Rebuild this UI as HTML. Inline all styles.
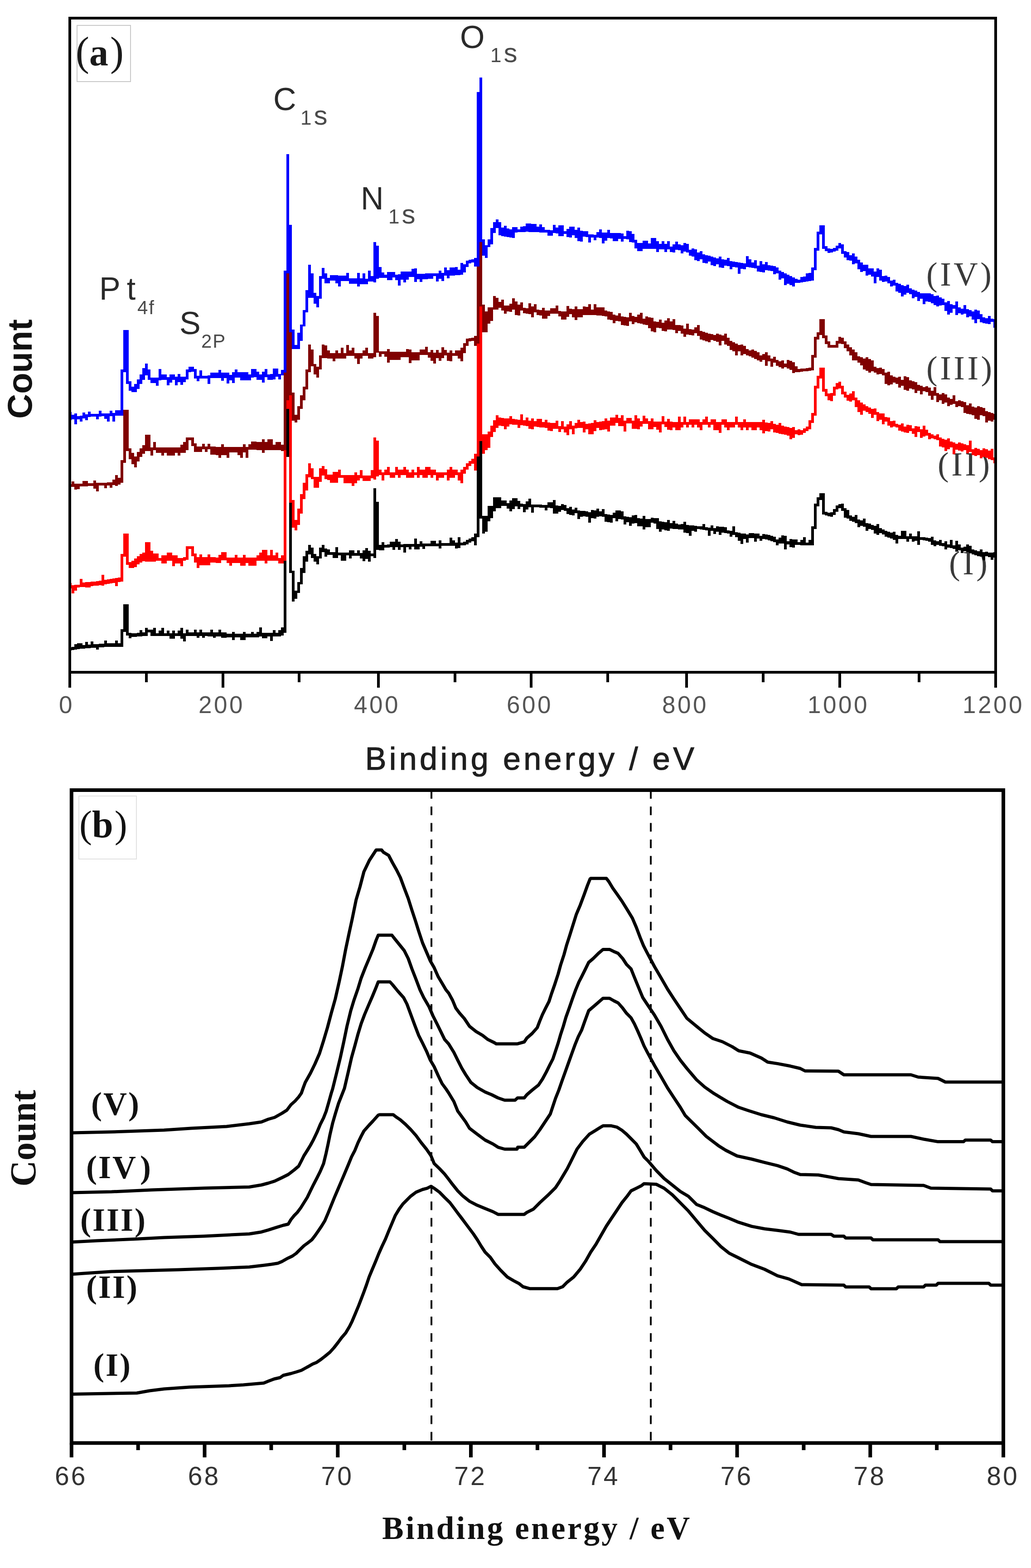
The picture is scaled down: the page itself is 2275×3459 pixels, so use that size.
<!DOCTYPE html>
<html><head><meta charset="utf-8"><title>XPS spectra</title>
<style>html,body{margin:0;padding:0;background:#fff;overflow:hidden}svg{display:block}</style>
</head><body>
<svg width="2275" height="3459" viewBox="0 0 2275 3459">
<rect width="2275" height="3459" fill="#fff"/>
<g id="plotA">
<rect x="170" y="56" width="118" height="124" fill="none" stroke="#c8c8c8" stroke-width="2"/>
<text x="167" y="144" font-family="'Liberation Serif', 'Times New Roman', serif" font-size="90" fill="#1a1a1a">(<tspan font-weight="bold" font-size="84">a</tspan><tspan dx="4">)</tspan></text>
<text x="2044" y="630" font-family="'Liberation Serif', 'Times New Roman', serif" font-size="74" fill="#3a3a3a" letter-spacing="5.5">(IV)</text>
<text x="2044" y="837" font-family="'Liberation Serif', 'Times New Roman', serif" font-size="74" fill="#3a3a3a" letter-spacing="5.5">(III)</text>
<text x="2069" y="1049" font-family="'Liberation Serif', 'Times New Roman', serif" font-size="74" fill="#3a3a3a" letter-spacing="5.5">(II)</text>
<text x="2094" y="1267" font-family="'Liberation Serif', 'Times New Roman', serif" font-size="74" fill="#3a3a3a" letter-spacing="5.5">(I)</text>
<path d="M154.0 1428.2h4.0v6.8h-4.0zM158.0 1427.1h6.0v7.1h-6.0zM164.0 1420.5h6.0v12.6h-6.0zM170.0 1419.4h6.0v12.6h-6.0zM176.0 1418.7h6.0v12.2h-6.0zM182.0 1422.5h6.0v8.0h-6.0zM188.0 1416.1h6.0v14.0h-6.0zM194.0 1421.7h6.0v8.0h-6.0zM200.0 1415.3h6.0v14.0h-6.0zM206.0 1420.9h6.0v8.0h-6.0zM212.0 1420.5h6.0v12.0h-6.0zM218.0 1420.1h6.0v8.0h-6.0zM224.0 1419.7h6.0v8.0h-6.0zM230.0 1413.3h6.0v14.0h-6.0zM236.0 1419.2h6.0v7.8h-6.0zM242.0 1419.2h6.0v7.8h-6.0zM248.0 1419.2h6.0v7.8h-6.0zM254.0 1413.2h6.0v13.8h-6.0zM260.0 1419.2h6.0v7.8h-6.0zM266.0 1388.0h6.0v39.0h-6.0zM272.0 1333.0h6.0v61.0h-6.0zM278.0 1333.0h6.0v69.0h-6.0zM284.0 1396.0h6.0v12.0h-6.0zM290.0 1397.0h6.0v8.0h-6.0zM296.0 1396.6h6.0v8.0h-6.0zM302.0 1396.2h6.0v8.0h-6.0zM308.0 1389.8h6.0v14.0h-6.0zM314.0 1395.4h6.0v8.0h-6.0zM320.0 1385.2h6.0v17.8h-6.0zM326.0 1389.0h6.0v6.0h-6.0zM332.0 1389.0h6.0v14.0h-6.0zM338.0 1385.0h6.0v18.0h-6.0zM344.0 1397.0h6.0v6.0h-6.0zM350.0 1391.1h6.0v12.0h-6.0zM356.0 1385.1h6.0v18.0h-6.0zM362.0 1397.1h6.0v6.0h-6.0zM368.0 1391.1h6.0v12.0h-6.0zM374.0 1397.1h6.0v12.0h-6.0zM380.0 1391.2h6.0v18.0h-6.0zM386.0 1397.2h6.0v6.0h-6.0zM392.0 1391.2h6.0v12.0h-6.0zM398.0 1385.2h6.0v24.0h-6.0zM404.0 1397.3h6.0v18.0h-6.0zM410.0 1388.9h6.0v14.4h-6.0zM416.0 1394.9h6.0v8.4h-6.0zM422.0 1394.9h6.0v8.4h-6.0zM428.0 1389.0h6.0v14.4h-6.0zM434.0 1395.0h6.0v12.0h-6.0zM440.0 1389.0h6.0v14.4h-6.0zM446.0 1395.0h6.0v12.0h-6.0zM452.0 1395.0h6.0v8.4h-6.0zM458.0 1395.1h6.0v8.4h-6.0zM464.0 1389.1h6.0v14.4h-6.0zM470.0 1395.1h6.0v12.0h-6.0zM476.0 1395.1h6.0v8.4h-6.0zM482.0 1389.2h6.0v14.4h-6.0zM488.0 1395.2h6.0v12.0h-6.0zM494.0 1395.2h6.0v12.0h-6.0zM500.0 1397.6h6.0v8.4h-6.0zM506.0 1397.6h6.0v8.4h-6.0zM512.0 1394.1h6.0v18.0h-6.0zM518.0 1397.7h6.0v8.4h-6.0zM524.0 1397.7h6.0v8.4h-6.0zM530.0 1397.7h6.0v14.4h-6.0zM536.0 1394.2h6.0v18.0h-6.0zM542.0 1397.8h6.0v8.4h-6.0zM548.0 1397.8h6.0v8.4h-6.0zM554.0 1394.2h6.0v12.0h-6.0zM560.0 1397.8h6.0v8.4h-6.0zM566.0 1394.3h6.0v12.0h-6.0zM572.0 1383.5h6.0v20.4h-6.0zM578.0 1395.5h6.0v12.0h-6.0zM584.0 1395.6h6.0v12.0h-6.0zM590.0 1395.6h6.0v8.4h-6.0zM596.0 1395.6h6.0v18.0h-6.0zM602.0 1389.6h6.0v14.4h-6.0zM608.0 1395.6h6.0v8.4h-6.0zM614.0 1390.0h6.0v14.0h-6.0zM620.0 1384.0h6.0v18.0h-6.0zM626.0 896.0h6.0v500.0h-6.0zM632.0 896.0h6.0v112.0h-6.0zM638.0 1002.0h6.0v262.0h-6.0zM644.0 1259.0h6.0v68.0h-6.0zM650.0 1303.0h6.0v18.0h-6.0zM656.0 1284.0h6.0v24.0h-6.0zM662.0 1253.0h6.0v36.0h-6.0zM668.0 1227.0h6.0v37.0h-6.0zM674.0 1215.0h6.0v24.0h-6.0zM680.0 1202.0h6.0v21.0h-6.0zM686.0 1208.0h6.0v23.0h-6.0zM692.0 1222.0h6.0v17.0h-6.0zM698.0 1227.0h6.0v18.0h-6.0zM704.0 1208.0h6.0v24.0h-6.0zM710.0 1202.0h6.0v16.0h-6.0zM716.0 1210.0h6.0v18.0h-6.0zM722.0 1212.1h6.0v12.1h-6.0zM728.0 1218.2h6.0v6.2h-6.0zM734.0 1218.4h6.0v12.1h-6.0zM740.0 1206.6h6.0v24.0h-6.0zM746.0 1218.7h6.0v6.2h-6.0zM752.0 1218.9h6.0v18.1h-6.0zM758.0 1219.1h6.0v18.1h-6.0zM764.0 1219.2h6.0v6.2h-6.0zM770.0 1213.5h6.0v18.0h-6.0zM776.0 1213.7h6.0v12.1h-6.0zM782.0 1219.8h6.0v6.2h-6.0zM788.0 1214.0h6.0v12.1h-6.0zM794.0 1220.1h6.0v12.1h-6.0zM800.0 1214.4h6.0v24.0h-6.0zM806.0 1208.6h6.0v24.0h-6.0zM812.0 1214.7h6.0v24.0h-6.0zM818.0 1220.8h6.0v6.2h-6.0zM824.0 1077.0h6.0v154.0h-6.0zM830.0 1107.0h6.0v106.0h-6.0zM836.0 1201.8h6.0v12.1h-6.0zM842.0 1195.8h6.0v18.0h-6.0zM848.0 1201.5h6.0v6.2h-6.0zM854.0 1201.4h6.0v6.2h-6.0zM860.0 1195.3h6.0v12.1h-6.0zM866.0 1195.1h6.0v18.0h-6.0zM872.0 1189.0h6.0v18.1h-6.0zM878.0 1194.8h6.0v18.0h-6.0zM884.0 1200.6h6.0v6.2h-6.0zM890.0 1200.4h6.0v18.1h-6.0zM896.0 1200.3h6.0v6.2h-6.0zM902.0 1200.1h6.0v12.1h-6.0zM908.0 1199.9h6.0v6.2h-6.0zM914.0 1187.9h6.0v24.0h-6.0zM920.0 1199.6h6.0v12.1h-6.0zM926.0 1193.5h6.0v12.1h-6.0zM932.0 1199.3h6.0v12.1h-6.0zM938.0 1199.1h6.0v6.2h-6.0zM944.0 1199.0h6.0v6.2h-6.0zM950.0 1192.9h6.0v12.1h-6.0zM956.0 1192.7h6.0v12.1h-6.0zM962.0 1198.5h6.0v6.2h-6.0zM968.0 1192.4h6.0v18.0h-6.0zM974.0 1198.2h6.0v6.2h-6.0zM980.0 1198.0h6.0v6.2h-6.0zM986.0 1197.9h6.0v6.2h-6.0zM992.0 1185.8h6.0v18.1h-6.0zM998.0 1191.6h6.0v12.1h-6.0zM1004.0 1197.4h6.0v12.1h-6.0zM1010.0 1185.3h6.0v24.0h-6.0zM1016.0 1197.1h6.0v6.2h-6.0zM1022.0 1194.9h6.0v8.2h-6.0zM1028.0 1191.0h6.0v9.9h-6.0zM1034.0 1188.0h6.0v9.0h-6.0zM1040.0 1185.0h6.0v9.0h-6.0zM1046.0 1177.0h6.0v26.0h-6.0zM1052.0 1001.0h6.0v184.0h-6.0zM1058.0 971.0h6.0v173.0h-6.0zM1064.0 1138.0h6.0v39.0h-6.0zM1070.0 1138.0h6.0v35.0h-6.0zM1076.0 1116.0h6.0v34.0h-6.0zM1082.0 1116.0h6.0v27.0h-6.0zM1088.0 1097.0h6.0v31.0h-6.0zM1094.0 1097.0h6.0v24.0h-6.0zM1100.0 1097.2h6.0v24.0h-6.0zM1106.0 1103.5h6.0v12.1h-6.0zM1112.0 1103.8h6.0v12.2h-6.0zM1118.0 1109.9h6.0v12.1h-6.0zM1124.0 1104.3h6.0v24.0h-6.0zM1130.0 1098.7h6.0v24.0h-6.0zM1136.0 1099.0h6.0v18.1h-6.0zM1142.0 1105.2h6.0v18.0h-6.0zM1148.0 1111.4h6.0v6.3h-6.0zM1154.0 1111.7h6.0v18.1h-6.0zM1160.0 1106.1h6.0v18.0h-6.0zM1166.0 1100.4h6.0v18.1h-6.0zM1172.0 1112.5h6.0v18.1h-6.0zM1178.0 1112.8h6.0v6.3h-6.0zM1184.0 1113.0h6.0v6.3h-6.0zM1190.0 1113.3h6.0v6.3h-6.0zM1196.0 1113.5h6.0v6.3h-6.0zM1202.0 1113.8h6.0v12.1h-6.0zM1208.0 1108.2h6.0v12.1h-6.0zM1214.0 1108.4h6.0v12.1h-6.0zM1220.0 1102.7h6.0v30.0h-6.0zM1226.0 1114.8h6.0v18.1h-6.0zM1232.0 1115.6h6.0v12.9h-6.0zM1238.0 1112.3h6.0v12.9h-6.0zM1244.0 1114.1h6.0v12.9h-6.0zM1250.0 1121.0h6.0v12.9h-6.0zM1256.0 1117.7h6.0v18.0h-6.0zM1262.0 1124.3h6.0v12.5h-6.0zM1268.0 1119.7h6.0v12.4h-6.0zM1274.0 1126.1h6.0v18.5h-6.0zM1280.0 1127.0h6.0v12.5h-6.0zM1286.0 1127.1h6.0v12.0h-6.0zM1292.0 1128.0h6.0v12.0h-6.0zM1298.0 1129.7h6.0v23.2h-6.0zM1304.0 1124.8h6.0v18.0h-6.0zM1310.0 1125.6h6.0v18.0h-6.0zM1316.0 1121.5h6.0v18.0h-6.0zM1322.0 1128.2h6.0v11.2h-6.0zM1328.0 1122.9h6.0v17.2h-6.0zM1334.0 1134.1h6.0v17.2h-6.0zM1340.0 1134.8h6.0v17.2h-6.0zM1346.0 1135.5h6.0v17.2h-6.0zM1352.0 1130.7h6.0v12.4h-6.0zM1358.0 1125.5h6.0v24.0h-6.0zM1364.0 1126.4h6.0v18.4h-6.0zM1370.0 1128.4h6.0v17.2h-6.0zM1376.0 1138.9h6.0v18.0h-6.0zM1382.0 1139.7h6.0v12.0h-6.0zM1388.0 1141.3h6.0v18.4h-6.0zM1394.0 1136.6h6.0v18.0h-6.0zM1400.0 1136.1h6.0v18.0h-6.0zM1406.0 1142.7h6.0v18.0h-6.0zM1412.0 1144.2h6.0v17.1h-6.0zM1418.0 1137.9h6.0v30.0h-6.0zM1424.0 1144.5h6.0v18.0h-6.0zM1430.0 1145.1h6.0v18.0h-6.0zM1436.0 1142.1h6.0v11.3h-6.0zM1442.0 1143.2h6.0v11.4h-6.0zM1448.0 1143.2h6.0v24.0h-6.0zM1454.0 1149.8h6.0v23.4h-6.0zM1460.0 1151.0h6.0v17.4h-6.0zM1466.0 1151.6h6.0v18.0h-6.0zM1472.0 1146.8h6.0v24.0h-6.0zM1478.0 1153.9h6.0v12.0h-6.0zM1484.0 1148.5h6.0v18.0h-6.0zM1490.0 1155.1h6.0v12.0h-6.0zM1496.0 1156.6h6.0v11.1h-6.0zM1502.0 1156.3h6.0v12.0h-6.0zM1508.0 1150.9h6.0v24.0h-6.0zM1514.0 1157.5h6.0v18.0h-6.0zM1520.0 1159.0h6.0v23.1h-6.0zM1526.0 1158.7h6.0v12.0h-6.0zM1532.0 1160.2h6.0v12.3h-6.0zM1538.0 1160.8h6.0v6.6h-6.0zM1544.0 1161.4h6.0v6.6h-6.0zM1550.0 1156.4h6.0v12.4h-6.0zM1556.0 1162.8h6.0v6.8h-6.0zM1562.0 1163.7h6.0v18.4h-6.0zM1568.0 1158.9h6.0v12.4h-6.0zM1574.0 1165.4h6.0v12.4h-6.0zM1580.0 1160.6h6.0v12.4h-6.0zM1586.0 1161.5h6.0v18.0h-6.0zM1592.0 1162.3h6.0v12.4h-6.0zM1598.0 1163.2h6.0v12.7h-6.0zM1604.0 1169.9h6.0v7.3h-6.0zM1610.0 1171.2h6.0v12.7h-6.0zM1616.0 1161.2h6.0v18.7h-6.0zM1622.0 1173.8h6.0v11.5h-6.0zM1628.0 1175.2h6.0v17.5h-6.0zM1634.0 1176.5h6.0v23.5h-6.0zM1640.0 1177.3h6.0v12.0h-6.0zM1646.0 1179.1h6.0v17.5h-6.0zM1652.0 1175.6h6.0v11.0h-6.0zM1658.0 1176.0h6.0v11.0h-6.0zM1664.0 1176.5h6.0v18.0h-6.0zM1670.0 1176.9h6.0v11.0h-6.0zM1676.0 1182.0h6.0v11.0h-6.0zM1682.0 1177.8h6.0v11.0h-6.0zM1688.0 1178.5h6.0v11.7h-6.0zM1694.0 1180.3h6.0v11.7h-6.0zM1700.0 1182.1h6.0v11.7h-6.0zM1706.0 1183.9h6.0v11.7h-6.0zM1712.0 1189.6h6.0v12.9h-6.0zM1718.0 1186.1h6.0v12.4h-6.0zM1724.0 1180.9h6.0v18.4h-6.0zM1730.0 1181.7h6.0v30.0h-6.0zM1736.0 1194.1h6.0v6.8h-6.0zM1742.0 1189.3h6.0v18.0h-6.0zM1748.0 1190.0h6.0v18.0h-6.0zM1754.0 1190.2h6.0v12.1h-6.0zM1760.0 1196.2h6.0v6.2h-6.0zM1766.0 1190.5h6.0v12.1h-6.0zM1772.0 1184.6h6.0v18.1h-6.0zM1778.0 1196.7h6.0v6.1h-6.0zM1784.0 1190.9h6.0v12.1h-6.0zM1790.0 1161.0h6.0v42.0h-6.0zM1796.0 1111.0h6.0v56.0h-6.0zM1802.0 1097.0h6.0v20.0h-6.0zM1808.0 1088.0h6.0v15.0h-6.0zM1814.0 1088.0h6.0v47.0h-6.0zM1820.0 1129.0h6.0v8.0h-6.0zM1826.0 1131.0h6.0v8.0h-6.0zM1832.0 1130.2h6.0v9.8h-6.0zM1838.0 1122.6h6.0v13.6h-6.0zM1844.0 1115.0h6.0v13.6h-6.0zM1850.0 1112.0h6.0v9.0h-6.0zM1856.0 1111.0h6.0v16.0h-6.0zM1862.0 1121.0h6.0v21.0h-6.0zM1868.0 1125.1h6.0v19.1h-6.0zM1874.0 1136.8h6.0v12.0h-6.0zM1880.0 1140.2h6.0v10.7h-6.0zM1886.0 1135.6h6.0v18.0h-6.0zM1892.0 1145.5h6.0v17.1h-6.0zM1898.0 1147.6h6.0v12.0h-6.0zM1904.0 1144.3h6.0v18.0h-6.0zM1910.0 1153.8h6.0v16.7h-6.0zM1916.0 1154.6h6.0v12.0h-6.0zM1922.0 1158.1h6.0v10.7h-6.0zM1928.0 1160.3h6.0v16.8h-6.0zM1934.0 1155.7h6.0v24.0h-6.0zM1940.0 1165.4h6.0v10.9h-6.0zM1946.0 1168.0h6.0v10.9h-6.0zM1952.0 1170.7h6.0v13.3h-6.0zM1958.0 1173.1h6.0v13.1h-6.0zM1964.0 1175.3h6.0v13.1h-6.0zM1970.0 1172.6h6.0v18.0h-6.0zM1976.0 1179.7h6.0v19.1h-6.0zM1982.0 1181.9h6.0v7.1h-6.0zM1988.0 1171.0h6.0v18.0h-6.0zM1994.0 1171.0h6.0v18.0h-6.0zM2000.0 1183.0h6.0v12.0h-6.0zM2006.0 1177.0h6.0v12.0h-6.0zM2012.0 1183.0h6.0v12.0h-6.0zM2018.0 1183.3h6.0v9.9h-6.0zM2024.0 1172.2h6.0v30.0h-6.0zM2030.0 1184.5h6.0v6.6h-6.0zM2036.0 1185.1h6.0v6.6h-6.0zM2042.0 1185.7h6.0v7.4h-6.0zM2048.0 1187.1h6.0v8.2h-6.0zM2054.0 1184.4h6.0v18.0h-6.0zM2060.0 1191.5h6.0v13.1h-6.0zM2066.0 1193.7h6.0v8.2h-6.0zM2072.0 1191.0h6.0v12.7h-6.0zM2078.0 1197.7h6.0v7.4h-6.0zM2084.0 1193.8h6.0v18.0h-6.0zM2090.0 1200.5h6.0v7.4h-6.0zM2096.0 1190.6h6.0v18.7h-6.0zM2102.0 1203.3h6.0v7.4h-6.0zM2108.0 1193.4h6.0v24.0h-6.0zM2114.0 1200.8h6.0v12.7h-6.0zM2120.0 1207.5h6.0v12.7h-6.0zM2126.0 1206.0h6.0v10.3h-6.0zM2132.0 1201.4h6.0v16.7h-6.0zM2138.0 1203.6h6.0v16.7h-6.0zM2144.0 1211.8h6.0v10.7h-6.0zM2150.0 1214.0h6.0v10.7h-6.0zM2156.0 1216.2h6.0v10.7h-6.0zM2162.0 1212.4h6.0v15.6h-6.0zM2168.0 1217.7h6.0v18.0h-6.0zM2174.0 1216.9h6.0v10.0h-6.0zM2180.0 1219.4h6.0v10.0h-6.0zM2186.0 1218.6h6.0v16.0h-6.0zM2192.0 1218.0h5.0v12.3h-5.0z" fill="#000000" shape-rendering="crispEdges"/>
<path d="M154.0 1285.8h4.0v12.2h-4.0zM158.0 1290.8h6.0v18.3h-6.0zM164.0 1290.2h6.0v12.3h-6.0zM170.0 1289.5h6.0v6.7h-6.0zM176.0 1277.1h6.0v18.3h-6.0zM182.0 1284.9h6.0v9.9h-6.0zM188.0 1284.3h6.0v12.0h-6.0zM194.0 1283.7h6.0v12.0h-6.0zM200.0 1283.1h6.0v9.9h-6.0zM206.0 1282.5h6.0v9.9h-6.0zM212.0 1281.9h6.0v9.9h-6.0zM218.0 1281.2h6.0v10.0h-6.0zM224.0 1268.2h6.0v24.0h-6.0zM230.0 1279.1h6.0v10.1h-6.0zM236.0 1278.1h6.0v10.1h-6.0zM242.0 1277.1h6.0v10.1h-6.0zM248.0 1276.0h6.0v10.1h-6.0zM254.0 1275.0h6.0v18.0h-6.0zM260.0 1273.9h6.0v10.1h-6.0zM266.0 1222.0h6.0v61.0h-6.0zM272.0 1177.0h6.0v51.0h-6.0zM278.0 1177.0h6.0v69.0h-6.0zM284.0 1240.0h6.0v13.0h-6.0zM290.0 1237.0h6.0v16.0h-6.0zM296.0 1232.0h6.0v19.0h-6.0zM302.0 1227.0h6.0v18.0h-6.0zM308.0 1222.0h6.0v19.0h-6.0zM314.0 1219.0h6.0v19.0h-6.0zM320.0 1196.0h6.0v43.0h-6.0zM326.0 1196.0h6.0v43.0h-6.0zM332.0 1215.4h6.0v24.0h-6.0zM338.0 1221.4h6.0v18.0h-6.0zM344.0 1221.4h6.0v15.6h-6.0zM350.0 1231.0h6.0v6.0h-6.0zM356.0 1225.0h6.0v18.0h-6.0zM362.0 1225.0h6.0v18.0h-6.0zM368.0 1219.0h6.0v18.0h-6.0zM374.0 1219.0h6.0v18.0h-6.0zM380.0 1225.0h6.0v24.0h-6.0zM386.0 1225.0h6.0v18.0h-6.0zM392.0 1231.0h6.0v12.0h-6.0zM398.0 1231.0h6.0v18.0h-6.0zM404.0 1229.0h6.0v8.0h-6.0zM410.0 1205.0h6.0v30.0h-6.0zM416.0 1205.0h6.0v6.0h-6.0zM422.0 1205.0h6.0v22.0h-6.0zM428.0 1221.0h6.0v20.0h-6.0zM434.0 1229.0h6.0v24.0h-6.0zM440.0 1223.1h6.0v24.0h-6.0zM446.0 1229.2h6.0v18.0h-6.0zM452.0 1229.2h6.0v18.0h-6.0zM458.0 1223.3h6.0v24.0h-6.0zM464.0 1229.4h6.0v12.0h-6.0zM470.0 1229.4h6.0v12.0h-6.0zM476.0 1229.5h6.0v12.0h-6.0zM482.0 1223.6h6.0v18.0h-6.0zM488.0 1217.6h6.0v18.0h-6.0zM494.0 1217.7h6.0v18.0h-6.0zM500.0 1229.7h6.0v12.0h-6.0zM506.0 1229.8h6.0v18.0h-6.0zM512.0 1229.9h6.0v12.0h-6.0zM518.0 1224.0h6.0v18.0h-6.0zM524.0 1230.0h6.0v12.0h-6.0zM530.0 1230.1h6.0v18.0h-6.0zM536.0 1224.1h6.0v24.0h-6.0zM542.0 1230.2h6.0v12.0h-6.0zM548.0 1230.2h6.0v18.0h-6.0zM554.0 1230.3h6.0v18.0h-6.0zM560.0 1230.4h6.0v18.0h-6.0zM566.0 1224.5h6.0v12.0h-6.0zM572.0 1218.5h6.0v18.0h-6.0zM578.0 1212.6h6.0v24.0h-6.0zM584.0 1212.7h6.0v30.0h-6.0zM590.0 1224.7h6.0v12.0h-6.0zM596.0 1212.8h6.0v24.0h-6.0zM602.0 1224.8h6.0v12.0h-6.0zM608.0 1218.9h6.0v18.0h-6.0zM614.0 1230.9h6.0v12.0h-6.0zM620.0 1225.0h6.0v18.0h-6.0zM626.0 828.0h6.0v409.0h-6.0zM632.0 828.0h6.0v74.0h-6.0zM638.0 869.0h6.0v240.0h-6.0zM644.0 1103.0h6.0v61.0h-6.0zM650.0 1147.0h6.0v23.0h-6.0zM656.0 1122.0h6.0v36.0h-6.0zM662.0 1090.0h6.0v43.0h-6.0zM668.0 1065.0h6.0v36.0h-6.0zM674.0 1046.0h6.0v36.0h-6.0zM680.0 1022.0h6.0v31.0h-6.0zM686.0 1033.0h6.0v24.0h-6.0zM692.0 1052.0h6.0v24.0h-6.0zM698.0 1052.0h6.0v24.0h-6.0zM704.0 1033.0h6.0v30.0h-6.0zM710.0 1028.0h6.0v21.0h-6.0zM716.0 1035.0h6.0v22.0h-6.0zM722.0 1047.0h6.0v12.1h-6.0zM728.0 1047.1h6.0v18.1h-6.0zM734.0 1041.3h6.0v24.0h-6.0zM740.0 1041.4h6.0v24.0h-6.0zM746.0 1035.5h6.0v18.1h-6.0zM752.0 1047.6h6.0v6.1h-6.0zM758.0 1047.7h6.0v18.1h-6.0zM764.0 1047.8h6.0v18.1h-6.0zM770.0 1047.9h6.0v18.1h-6.0zM776.0 1048.1h6.0v24.1h-6.0zM782.0 1042.2h6.0v24.0h-6.0zM788.0 1048.3h6.0v12.1h-6.0zM794.0 1036.5h6.0v18.1h-6.0zM800.0 1048.5h6.0v12.1h-6.0zM806.0 1048.6h6.0v12.1h-6.0zM812.0 1048.8h6.0v12.1h-6.0zM818.0 1036.9h6.0v18.1h-6.0zM824.0 965.0h6.0v93.0h-6.0zM830.0 972.0h6.0v79.0h-6.0zM836.0 1036.0h6.0v12.0h-6.0zM842.0 1042.0h6.0v18.0h-6.0zM848.0 1036.0h6.0v12.0h-6.0zM854.0 1030.0h6.0v18.0h-6.0zM860.0 1042.0h6.0v12.0h-6.0zM866.0 1042.0h6.0v12.0h-6.0zM872.0 1030.0h6.0v18.0h-6.0zM878.0 1036.0h6.0v18.0h-6.0zM884.0 1036.0h6.0v12.0h-6.0zM890.0 1030.0h6.0v18.0h-6.0zM896.0 1036.0h6.0v18.0h-6.0zM902.0 1042.0h6.0v12.0h-6.0zM908.0 1036.0h6.0v18.0h-6.0zM914.0 1042.0h6.0v6.0h-6.0zM920.0 1030.0h6.0v24.0h-6.0zM926.0 1036.0h6.0v12.0h-6.0zM932.0 1036.0h6.0v18.0h-6.0zM938.0 1030.0h6.0v24.0h-6.0zM944.0 1030.0h6.0v18.0h-6.0zM950.0 1036.0h6.0v18.0h-6.0zM956.0 1036.0h6.0v12.0h-6.0zM962.0 1042.0h6.0v18.0h-6.0zM968.0 1042.0h6.0v12.0h-6.0zM974.0 1042.0h6.0v12.0h-6.0zM980.0 1042.0h6.0v6.0h-6.0zM986.0 1036.0h6.0v24.0h-6.0zM992.0 1030.0h6.0v24.0h-6.0zM998.0 1036.0h6.0v18.0h-6.0zM1004.0 1036.0h6.0v12.0h-6.0zM1010.0 1042.0h6.0v18.0h-6.0zM1016.0 1036.0h6.0v30.0h-6.0zM1022.0 1029.6h6.0v15.1h-6.0zM1028.0 1022.2h6.0v13.3h-6.0zM1034.0 1016.9h6.0v11.3h-6.0zM1040.0 1012.0h6.0v10.9h-6.0zM1046.0 1001.0h6.0v37.0h-6.0zM1052.0 746.0h6.0v261.0h-6.0zM1058.0 670.0h6.0v303.0h-6.0zM1064.0 958.0h6.0v43.0h-6.0zM1070.0 958.0h6.0v35.0h-6.0zM1076.0 952.0h6.0v36.0h-6.0zM1082.0 939.0h6.0v25.0h-6.0zM1088.0 927.0h6.0v26.0h-6.0zM1094.0 916.0h6.0v28.0h-6.0zM1100.0 921.3h6.0v18.0h-6.0zM1106.0 921.9h6.0v18.0h-6.0zM1112.0 922.5h6.0v24.0h-6.0zM1118.0 923.1h6.0v18.0h-6.0zM1124.0 917.7h6.0v18.3h-6.0zM1130.0 924.3h6.0v12.3h-6.0zM1136.0 924.9h6.0v12.3h-6.0zM1142.0 925.5h6.0v18.0h-6.0zM1148.0 914.1h6.0v24.3h-6.0zM1154.0 926.7h6.0v12.3h-6.0zM1160.0 921.3h6.0v18.3h-6.0zM1166.0 927.9h6.0v18.0h-6.0zM1172.0 922.5h6.0v24.0h-6.0zM1178.0 929.1h6.0v12.3h-6.0zM1184.0 923.7h6.0v18.3h-6.0zM1190.0 924.3h6.0v18.3h-6.0zM1196.0 930.9h6.0v12.3h-6.0zM1202.0 925.5h6.0v18.3h-6.0zM1208.0 932.1h6.0v18.0h-6.0zM1214.0 932.7h6.0v18.0h-6.0zM1220.0 933.3h6.0v12.3h-6.0zM1226.0 927.9h6.0v18.3h-6.0zM1232.0 940.2h6.0v12.3h-6.0zM1238.0 929.1h6.0v18.3h-6.0zM1244.0 941.4h6.0v12.3h-6.0zM1250.0 935.5h6.0v24.0h-6.0zM1256.0 928.6h6.0v18.5h-6.0zM1262.0 939.3h6.0v18.5h-6.0zM1268.0 932.9h6.0v12.4h-6.0zM1274.0 926.0h6.0v18.4h-6.0zM1280.0 931.0h6.0v12.5h-6.0zM1286.0 930.1h6.0v24.0h-6.0zM1292.0 934.8h6.0v12.5h-6.0zM1298.0 933.9h6.0v24.5h-6.0zM1304.0 933.0h6.0v24.5h-6.0zM1310.0 926.5h6.0v24.0h-6.0zM1316.0 931.2h6.0v12.4h-6.0zM1322.0 930.3h6.0v18.5h-6.0zM1328.0 929.4h6.0v18.5h-6.0zM1334.0 923.0h6.0v24.0h-6.0zM1340.0 927.6h6.0v24.4h-6.0zM1346.0 921.1h6.0v18.0h-6.0zM1352.0 921.1h6.0v18.0h-6.0zM1358.0 915.3h6.0v18.1h-6.0zM1364.0 921.5h6.0v18.0h-6.0zM1370.0 915.6h6.0v24.0h-6.0zM1376.0 927.7h6.0v24.1h-6.0zM1382.0 921.9h6.0v12.1h-6.0zM1388.0 922.1h6.0v12.1h-6.0zM1394.0 928.2h6.0v18.1h-6.0zM1400.0 916.4h6.0v30.0h-6.0zM1406.0 922.6h6.0v24.0h-6.0zM1412.0 928.7h6.0v12.1h-6.0zM1418.0 916.9h6.0v18.1h-6.0zM1424.0 923.1h6.0v12.1h-6.0zM1430.0 929.1h6.0v18.1h-6.0zM1436.0 923.4h6.0v24.0h-6.0zM1442.0 929.5h6.0v12.1h-6.0zM1448.0 929.6h6.0v18.1h-6.0zM1454.0 929.8h6.0v24.1h-6.0zM1460.0 918.0h6.0v18.1h-6.0zM1466.0 930.1h6.0v12.1h-6.0zM1472.0 924.3h6.0v24.0h-6.0zM1478.0 930.4h6.0v18.1h-6.0zM1484.0 930.6h6.0v12.1h-6.0zM1490.0 930.7h6.0v18.1h-6.0zM1496.0 919.0h6.0v30.0h-6.0zM1502.0 931.0h6.0v12.0h-6.0zM1508.0 919.0h6.0v18.0h-6.0zM1514.0 931.0h6.0v12.0h-6.0zM1520.0 925.0h6.0v12.0h-6.0zM1526.0 925.0h6.0v18.0h-6.0zM1532.0 925.0h6.0v12.0h-6.0zM1538.0 925.0h6.0v18.0h-6.0zM1544.0 931.0h6.0v18.0h-6.0zM1550.0 925.0h6.0v12.0h-6.0zM1556.0 919.0h6.0v18.0h-6.0zM1562.0 931.0h6.0v12.0h-6.0zM1568.0 925.0h6.0v12.0h-6.0zM1574.0 925.0h6.0v24.0h-6.0zM1580.0 931.0h6.0v18.0h-6.0zM1586.0 931.0h6.0v24.0h-6.0zM1592.0 925.0h6.0v12.0h-6.0zM1598.0 925.0h6.0v18.0h-6.0zM1604.0 931.0h6.0v18.0h-6.0zM1610.0 931.0h6.0v12.0h-6.0zM1616.0 931.0h6.0v12.0h-6.0zM1622.0 919.0h6.0v18.0h-6.0zM1628.0 931.0h6.0v12.0h-6.0zM1634.0 931.0h6.0v18.0h-6.0zM1640.0 925.0h6.0v18.0h-6.0zM1646.0 931.0h6.0v18.0h-6.0zM1652.0 931.0h6.0v12.0h-6.0zM1658.0 931.0h6.0v18.0h-6.0zM1664.0 931.0h6.0v18.0h-6.0zM1670.0 931.0h6.0v12.0h-6.0zM1676.0 931.0h6.0v18.0h-6.0zM1682.0 925.8h6.0v30.0h-6.0zM1688.0 932.3h6.0v18.5h-6.0zM1694.0 933.3h6.0v18.5h-6.0zM1700.0 928.8h6.0v18.0h-6.0zM1706.0 935.3h6.0v18.5h-6.0zM1712.0 936.5h6.0v18.7h-6.0zM1718.0 932.6h6.0v24.0h-6.0zM1724.0 939.3h6.0v18.7h-6.0zM1730.0 940.7h6.0v18.7h-6.0zM1736.0 942.1h6.0v18.7h-6.0zM1742.0 943.9h6.0v25.3h-6.0zM1748.0 941.8h6.0v24.0h-6.0zM1754.0 949.2h6.0v8.6h-6.0zM1760.0 947.1h6.0v12.9h-6.0zM1766.0 949.1h6.0v10.2h-6.0zM1772.0 944.9h6.0v10.2h-6.0zM1778.0 940.7h6.0v10.2h-6.0zM1784.0 926.8h6.0v19.9h-6.0zM1790.0 911.0h6.0v21.8h-6.0zM1796.0 851.0h6.0v66.0h-6.0zM1802.0 829.0h6.0v28.0h-6.0zM1808.0 811.0h6.0v24.0h-6.0zM1814.0 811.0h6.0v53.0h-6.0zM1820.0 858.0h6.0v15.7h-6.0zM1826.0 867.7h6.0v15.7h-6.0zM1832.0 867.3h6.0v17.7h-6.0zM1838.0 853.3h6.0v20.0h-6.0zM1844.0 844.6h6.0v14.8h-6.0zM1850.0 842.0h6.0v14.6h-6.0zM1856.0 850.6h6.0v18.9h-6.0zM1862.0 863.5h6.0v13.4h-6.0zM1868.0 870.9h6.0v12.9h-6.0zM1874.0 867.6h6.0v18.0h-6.0zM1880.0 863.4h6.0v19.5h-6.0zM1886.0 876.9h6.0v20.8h-6.0zM1892.0 882.5h6.0v26.8h-6.0zM1898.0 888.1h6.0v26.4h-6.0zM1904.0 892.2h6.0v13.6h-6.0zM1910.0 895.5h6.0v13.6h-6.0zM1916.0 898.8h6.0v13.7h-6.0zM1922.0 902.1h6.0v19.7h-6.0zM1928.0 901.2h6.0v13.7h-6.0zM1934.0 908.8h6.0v19.7h-6.0zM1940.0 912.2h6.0v13.7h-6.0zM1946.0 911.9h6.0v24.0h-6.0zM1952.0 920.0h6.0v10.3h-6.0zM1958.0 920.5h6.0v18.0h-6.0zM1964.0 928.7h6.0v14.2h-6.0zM1970.0 928.0h6.0v13.0h-6.0zM1976.0 935.0h6.0v8.0h-6.0zM1982.0 937.0h6.0v13.0h-6.0zM1988.0 934.0h6.0v18.0h-6.0zM1994.0 941.0h6.0v13.0h-6.0zM2000.0 937.4h6.0v18.0h-6.0zM2006.0 938.2h6.0v12.4h-6.0zM2012.0 944.6h6.0v12.4h-6.0zM2018.0 939.8h6.0v24.0h-6.0zM2024.0 940.6h6.0v12.4h-6.0zM2030.0 947.0h6.0v19.4h-6.0zM2036.0 939.2h6.0v24.0h-6.0zM2042.0 948.0h6.0v13.4h-6.0zM2048.0 955.4h6.0v13.4h-6.0zM2054.0 958.2h6.0v8.8h-6.0zM2060.0 961.0h6.0v8.2h-6.0zM2066.0 958.3h6.0v13.1h-6.0zM2072.0 965.4h6.0v19.1h-6.0zM2078.0 967.6h6.0v19.1h-6.0zM2084.0 969.8h6.0v25.1h-6.0zM2090.0 967.1h6.0v24.0h-6.0zM2096.0 974.2h6.0v13.1h-6.0zM2102.0 976.4h6.0v25.1h-6.0zM2108.0 978.6h6.0v13.1h-6.0zM2114.0 975.9h6.0v18.0h-6.0zM2120.0 978.0h6.0v18.0h-6.0zM2126.0 980.0h6.0v13.0h-6.0zM2132.0 982.0h6.0v18.0h-6.0zM2138.0 972.0h6.0v25.0h-6.0zM2144.0 991.0h6.0v13.0h-6.0zM2150.0 988.1h6.0v18.0h-6.0zM2156.0 990.4h6.0v13.1h-6.0zM2162.0 992.7h6.0v18.0h-6.0zM2168.0 989.0h6.0v19.1h-6.0zM2174.0 991.3h6.0v19.1h-6.0zM2180.0 993.6h6.0v19.1h-6.0zM2186.0 989.9h6.0v25.1h-6.0zM2192.0 1009.1h5.0v13.0h-5.0z" fill="#ff0000" shape-rendering="crispEdges"/>
<path d="M154.0 1067.8h4.0v6.2h-4.0zM158.0 1061.7h6.0v12.1h-6.0zM164.0 1067.4h6.0v12.1h-6.0zM170.0 1067.1h6.0v12.1h-6.0zM176.0 1066.9h6.0v6.2h-6.0zM182.0 1060.8h6.0v12.1h-6.0zM188.0 1060.5h6.0v12.1h-6.0zM194.0 1066.2h6.0v6.2h-6.0zM200.0 1066.0h6.0v6.2h-6.0zM206.0 1059.8h6.0v18.0h-6.0zM212.0 1065.4h6.0v18.1h-6.0zM218.0 1065.1h6.0v6.3h-6.0zM224.0 1064.8h6.0v6.3h-6.0zM230.0 1064.5h6.0v12.1h-6.0zM236.0 1064.2h6.0v6.3h-6.0zM242.0 1063.9h6.0v12.1h-6.0zM248.0 1057.7h6.0v12.1h-6.0zM254.0 1047.8h6.0v24.0h-6.0zM260.0 1053.5h6.0v15.7h-6.0zM266.0 1015.0h6.0v50.0h-6.0zM272.0 904.0h6.0v117.0h-6.0zM278.0 904.0h6.0v91.0h-6.0zM284.0 989.0h6.0v24.0h-6.0zM290.0 999.0h6.0v25.0h-6.0zM296.0 1007.0h6.0v24.0h-6.0zM302.0 997.0h6.0v21.0h-6.0zM308.0 989.0h6.0v19.0h-6.0zM314.0 982.0h6.0v19.0h-6.0zM320.0 959.0h6.0v36.0h-6.0zM326.0 959.0h6.0v36.0h-6.0zM332.0 987.0h6.0v18.0h-6.0zM338.0 975.0h6.0v18.0h-6.0zM344.0 987.0h6.0v12.0h-6.0zM350.0 987.0h6.0v12.0h-6.0zM356.0 987.0h6.0v18.0h-6.0zM362.0 987.0h6.0v12.0h-6.0zM368.0 987.0h6.0v18.0h-6.0zM374.0 987.0h6.0v18.0h-6.0zM380.0 987.0h6.0v18.0h-6.0zM386.0 987.0h6.0v12.0h-6.0zM392.0 987.0h6.0v18.0h-6.0zM398.0 981.0h6.0v18.0h-6.0zM404.0 975.0h6.0v24.0h-6.0zM410.0 965.0h6.0v28.0h-6.0zM416.0 965.0h6.0v6.0h-6.0zM422.0 965.0h6.0v19.3h-6.0zM428.0 978.3h6.0v18.7h-6.0zM434.0 985.0h6.0v12.0h-6.0zM440.0 985.1h6.0v12.0h-6.0zM446.0 979.2h6.0v12.0h-6.0zM452.0 985.2h6.0v12.0h-6.0zM458.0 979.3h6.0v12.0h-6.0zM464.0 985.4h6.0v18.0h-6.0zM470.0 985.4h6.0v18.0h-6.0zM476.0 985.5h6.0v18.0h-6.0zM482.0 985.5h6.0v24.0h-6.0zM488.0 979.6h6.0v24.0h-6.0zM494.0 985.7h6.0v18.0h-6.0zM500.0 985.7h6.0v24.0h-6.0zM506.0 985.8h6.0v12.0h-6.0zM512.0 985.9h6.0v12.0h-6.0zM518.0 985.9h6.0v12.0h-6.0zM524.0 986.0h6.0v18.0h-6.0zM530.0 986.1h6.0v24.0h-6.0zM536.0 980.1h6.0v18.0h-6.0zM542.0 986.2h6.0v24.0h-6.0zM548.0 980.3h6.0v12.0h-6.0zM554.0 974.3h6.0v18.0h-6.0zM560.0 974.4h6.0v18.0h-6.0zM566.0 974.5h6.0v18.0h-6.0zM572.0 974.5h6.0v18.0h-6.0zM578.0 968.6h6.0v30.0h-6.0zM584.0 974.7h6.0v18.0h-6.0zM590.0 968.7h6.0v24.0h-6.0zM596.0 968.8h6.0v24.0h-6.0zM602.0 980.8h6.0v12.0h-6.0zM608.0 974.9h6.0v18.0h-6.0zM614.0 975.0h6.0v18.0h-6.0zM620.0 981.0h6.0v14.0h-6.0zM626.0 597.0h6.0v396.0h-6.0zM632.0 597.0h6.0v286.0h-6.0zM638.0 727.0h6.0v145.0h-6.0zM644.0 866.0h6.0v62.0h-6.0zM650.0 915.0h6.0v17.0h-6.0zM656.0 896.0h6.0v30.0h-6.0zM662.0 872.0h6.0v30.0h-6.0zM668.0 853.0h6.0v30.0h-6.0zM674.0 815.0h6.0v44.0h-6.0zM680.0 760.0h6.0v61.0h-6.0zM686.0 771.0h6.0v37.0h-6.0zM692.0 803.0h6.0v23.0h-6.0zM698.0 809.0h6.0v24.0h-6.0zM704.0 784.0h6.0v31.0h-6.0zM710.0 760.0h6.0v30.0h-6.0zM716.0 762.0h6.0v28.0h-6.0zM722.0 773.0h6.0v18.0h-6.0zM728.0 779.0h6.0v12.0h-6.0zM734.0 779.0h6.0v18.0h-6.0zM740.0 773.0h6.0v18.0h-6.0zM746.0 779.0h6.0v12.0h-6.0zM752.0 767.0h6.0v24.0h-6.0zM758.0 779.0h6.0v12.0h-6.0zM764.0 761.0h6.0v24.0h-6.0zM770.0 773.0h6.0v12.0h-6.0zM776.0 767.0h6.0v18.0h-6.0zM782.0 779.0h6.0v12.0h-6.0zM788.0 779.0h6.0v24.0h-6.0zM794.0 779.0h6.0v12.0h-6.0zM800.0 773.0h6.0v12.0h-6.0zM806.0 767.0h6.0v18.0h-6.0zM812.0 779.0h6.0v12.0h-6.0zM818.0 779.0h6.0v12.0h-6.0zM824.0 690.0h6.0v98.0h-6.0zM830.0 697.0h6.0v81.0h-6.0zM836.0 775.0h6.0v12.1h-6.0zM842.0 775.1h6.0v6.1h-6.0zM848.0 775.3h6.0v12.1h-6.0zM854.0 769.5h6.0v30.0h-6.0zM860.0 775.5h6.0v18.1h-6.0zM866.0 775.7h6.0v18.1h-6.0zM872.0 775.8h6.0v18.1h-6.0zM878.0 775.9h6.0v18.1h-6.0zM884.0 776.0h6.0v12.1h-6.0zM890.0 776.2h6.0v12.1h-6.0zM896.0 770.4h6.0v18.0h-6.0zM902.0 770.5h6.0v30.0h-6.0zM908.0 776.6h6.0v18.1h-6.0zM914.0 776.7h6.0v18.1h-6.0zM920.0 776.8h6.0v18.1h-6.0zM926.0 771.0h6.0v12.1h-6.0zM932.0 771.2h6.0v12.1h-6.0zM938.0 765.3h6.0v18.1h-6.0zM944.0 777.3h6.0v12.1h-6.0zM950.0 771.5h6.0v24.0h-6.0zM956.0 777.6h6.0v24.1h-6.0zM962.0 771.8h6.0v18.0h-6.0zM968.0 777.9h6.0v18.1h-6.0zM974.0 766.1h6.0v24.0h-6.0zM980.0 772.2h6.0v12.1h-6.0zM986.0 778.3h6.0v18.1h-6.0zM992.0 772.5h6.0v24.0h-6.0zM998.0 778.5h6.0v6.1h-6.0zM1004.0 772.7h6.0v12.1h-6.0zM1010.0 772.8h6.0v18.0h-6.0zM1016.0 767.0h6.0v30.0h-6.0zM1022.0 757.0h6.0v22.3h-6.0zM1028.0 746.7h6.0v16.3h-6.0zM1034.0 745.9h6.0v6.9h-6.0zM1040.0 745.0h6.0v6.9h-6.0zM1046.0 741.0h6.0v22.0h-6.0zM1052.0 573.0h6.0v185.0h-6.0zM1058.0 528.0h6.0v148.0h-6.0zM1064.0 672.0h6.0v61.0h-6.0zM1070.0 687.0h6.0v46.0h-6.0zM1076.0 678.0h6.0v36.0h-6.0zM1082.0 678.0h6.0v30.0h-6.0zM1088.0 653.0h6.0v30.0h-6.0zM1094.0 657.0h6.0v26.0h-6.0zM1100.0 666.4h6.0v12.4h-6.0zM1106.0 661.2h6.0v24.0h-6.0zM1112.0 673.6h6.0v18.4h-6.0zM1118.0 674.3h6.0v12.4h-6.0zM1124.0 669.5h6.0v18.0h-6.0zM1130.0 658.3h6.0v24.4h-6.0zM1136.0 665.1h6.0v30.0h-6.0zM1142.0 671.9h6.0v24.0h-6.0zM1148.0 666.6h6.0v18.4h-6.0zM1154.0 679.0h6.0v12.4h-6.0zM1160.0 679.8h6.0v12.4h-6.0zM1166.0 669.0h6.0v24.0h-6.0zM1172.0 675.8h6.0v24.0h-6.0zM1178.0 670.5h6.0v18.4h-6.0zM1184.0 682.9h6.0v12.4h-6.0zM1190.0 683.7h6.0v12.4h-6.0zM1196.0 678.9h6.0v24.0h-6.0zM1202.0 685.1h6.0v18.1h-6.0zM1208.0 685.3h6.0v12.1h-6.0zM1214.0 679.7h6.0v12.1h-6.0zM1220.0 679.9h6.0v12.1h-6.0zM1226.0 674.1h6.0v18.1h-6.0zM1232.0 686.2h6.0v12.1h-6.0zM1238.0 686.5h6.0v18.1h-6.0zM1244.0 686.7h6.0v18.1h-6.0zM1250.0 675.0h6.0v24.0h-6.0zM1256.0 681.3h6.0v12.1h-6.0zM1262.0 681.5h6.0v18.0h-6.0zM1268.0 675.7h6.0v30.0h-6.0zM1274.0 682.0h6.0v18.0h-6.0zM1280.0 682.2h6.0v18.0h-6.0zM1286.0 676.4h6.0v18.1h-6.0zM1292.0 676.7h6.0v18.1h-6.0zM1298.0 670.9h6.0v24.1h-6.0zM1304.0 683.1h6.0v12.1h-6.0zM1310.0 671.3h6.0v24.1h-6.0zM1316.0 677.6h6.0v18.1h-6.0zM1322.0 677.8h6.0v18.1h-6.0zM1328.0 678.2h6.0v18.6h-6.0zM1334.0 685.4h6.0v12.6h-6.0zM1340.0 686.6h6.0v18.0h-6.0zM1346.0 687.8h6.0v18.0h-6.0zM1352.0 694.4h6.0v18.6h-6.0zM1358.0 695.6h6.0v12.6h-6.0zM1364.0 691.4h6.0v18.0h-6.0zM1370.0 698.0h6.0v18.6h-6.0zM1376.0 699.2h6.0v18.6h-6.0zM1382.0 700.4h6.0v18.6h-6.0zM1388.0 690.2h6.0v18.6h-6.0zM1394.0 697.4h6.0v18.0h-6.0zM1400.0 698.7h6.0v12.7h-6.0zM1406.0 694.1h6.0v18.7h-6.0zM1412.0 689.5h6.0v24.7h-6.0zM1418.0 702.9h6.0v12.7h-6.0zM1424.0 698.3h6.0v18.7h-6.0zM1430.0 699.7h6.0v24.0h-6.0zM1436.0 701.1h6.0v30.0h-6.0zM1442.0 708.5h6.0v24.0h-6.0zM1448.0 709.9h6.0v12.7h-6.0zM1454.0 705.3h6.0v18.7h-6.0zM1460.0 712.4h6.0v18.0h-6.0zM1466.0 707.2h6.0v24.0h-6.0zM1472.0 702.1h6.0v24.4h-6.0zM1478.0 708.9h6.0v18.4h-6.0zM1484.0 703.7h6.0v24.4h-6.0zM1490.0 716.5h6.0v18.0h-6.0zM1496.0 717.4h6.0v12.4h-6.0zM1502.0 718.2h6.0v18.0h-6.0zM1508.0 724.6h6.0v18.4h-6.0zM1514.0 713.8h6.0v24.0h-6.0zM1520.0 726.2h6.0v12.4h-6.0zM1526.0 727.1h6.0v12.4h-6.0zM1532.0 722.3h6.0v12.4h-6.0zM1538.0 717.3h6.0v24.0h-6.0zM1544.0 730.2h6.0v18.9h-6.0zM1550.0 732.0h6.0v18.9h-6.0zM1556.0 733.8h6.0v18.9h-6.0zM1562.0 735.6h6.0v18.9h-6.0zM1568.0 737.4h6.0v12.9h-6.0zM1574.0 739.2h6.0v12.9h-6.0zM1580.0 735.9h6.0v18.0h-6.0zM1586.0 737.7h6.0v24.0h-6.0zM1592.0 739.5h6.0v12.9h-6.0zM1598.0 735.5h6.0v24.0h-6.0zM1604.0 744.5h6.0v18.0h-6.0zM1610.0 752.0h6.0v19.5h-6.0zM1616.0 755.0h6.0v19.5h-6.0zM1622.0 758.0h6.0v25.5h-6.0zM1628.0 761.0h6.0v13.5h-6.0zM1634.0 759.5h6.0v24.0h-6.0zM1640.0 762.5h6.0v18.0h-6.0zM1646.0 770.0h6.0v13.5h-6.0zM1652.0 772.9h6.0v13.4h-6.0zM1658.0 771.1h6.0v18.0h-6.0zM1664.0 773.9h6.0v18.0h-6.0zM1670.0 776.7h6.0v18.0h-6.0zM1676.0 784.1h6.0v13.4h-6.0zM1682.0 781.2h6.0v12.7h-6.0zM1688.0 776.6h6.0v30.0h-6.0zM1694.0 784.0h6.0v12.7h-6.0zM1700.0 790.7h6.0v18.7h-6.0zM1706.0 786.8h6.0v13.1h-6.0zM1712.0 793.9h6.0v13.3h-6.0zM1718.0 796.5h6.0v13.3h-6.0zM1724.0 794.5h6.0v18.0h-6.0zM1730.0 801.8h6.0v8.6h-6.0zM1736.0 793.8h6.0v19.3h-6.0zM1742.0 796.4h6.0v19.3h-6.0zM1748.0 799.0h6.0v24.0h-6.0zM1754.0 807.7h6.0v13.3h-6.0zM1760.0 814.2h6.0v6.8h-6.0zM1766.0 813.4h6.0v6.8h-6.0zM1772.0 812.6h6.0v6.8h-6.0zM1778.0 811.8h6.0v6.8h-6.0zM1784.0 811.0h6.0v6.8h-6.0zM1790.0 783.0h6.0v34.0h-6.0zM1796.0 743.0h6.0v46.0h-6.0zM1802.0 733.0h6.0v16.0h-6.0zM1808.0 704.0h6.0v35.0h-6.0zM1814.0 704.0h6.0v42.0h-6.0zM1820.0 740.0h6.0v18.6h-6.0zM1826.0 752.6h6.0v14.4h-6.0zM1832.0 761.0h6.0v6.0h-6.0zM1838.0 761.0h6.0v6.0h-6.0zM1844.0 752.0h6.0v15.0h-6.0zM1850.0 743.0h6.0v15.0h-6.0zM1856.0 744.5h6.0v14.8h-6.0zM1862.0 753.3h6.0v14.8h-6.0zM1868.0 759.9h6.0v14.8h-6.0zM1874.0 765.5h6.0v18.0h-6.0zM1880.0 771.1h6.0v24.0h-6.0zM1886.0 776.7h6.0v18.0h-6.0zM1892.0 785.5h6.0v14.8h-6.0zM1898.0 787.5h6.0v18.0h-6.0zM1904.0 790.9h6.0v24.0h-6.0zM1910.0 788.1h6.0v30.0h-6.0zM1916.0 791.5h6.0v30.0h-6.0zM1922.0 794.8h6.0v24.0h-6.0zM1928.0 808.5h6.0v13.7h-6.0zM1934.0 811.8h6.0v13.7h-6.0zM1940.0 810.9h6.0v13.6h-6.0zM1946.0 814.1h6.0v13.6h-6.0zM1952.0 821.6h6.0v25.6h-6.0zM1958.0 820.3h6.0v30.0h-6.0zM1964.0 827.9h6.0v19.6h-6.0zM1970.0 831.0h6.0v13.2h-6.0zM1976.0 833.4h6.0v13.2h-6.0zM1982.0 831.0h6.0v24.0h-6.0zM1988.0 838.2h6.0v13.2h-6.0zM1994.0 829.8h6.0v30.0h-6.0zM2000.0 831.8h6.0v30.0h-6.0zM2006.0 839.4h6.0v18.0h-6.0zM2012.0 841.0h6.0v18.0h-6.0zM2018.0 842.6h6.0v24.0h-6.0zM2024.0 849.4h6.0v12.8h-6.0zM2030.0 851.0h6.0v19.4h-6.0zM2036.0 853.8h6.0v8.8h-6.0zM2042.0 852.0h6.0v13.4h-6.0zM2048.0 854.8h6.0v18.0h-6.0zM2054.0 862.2h6.0v19.4h-6.0zM2060.0 854.2h6.0v19.2h-6.0zM2066.0 867.4h6.0v19.2h-6.0zM2072.0 869.8h6.0v13.2h-6.0zM2078.0 867.4h6.0v24.0h-6.0zM2084.0 869.8h6.0v18.0h-6.0zM2090.0 877.0h6.0v19.3h-6.0zM2096.0 879.6h6.0v13.3h-6.0zM2102.0 871.5h6.0v19.3h-6.0zM2108.0 884.8h6.0v13.3h-6.0zM2114.0 882.7h6.0v13.3h-6.0zM2120.0 884.9h6.0v12.9h-6.0zM2126.0 886.7h6.0v24.0h-6.0zM2132.0 893.6h6.0v18.9h-6.0zM2138.0 890.3h6.0v24.0h-6.0zM2144.0 897.2h6.0v18.9h-6.0zM2150.0 899.0h6.0v25.0h-6.0zM2156.0 896.1h6.0v30.0h-6.0zM2162.0 898.1h6.0v18.0h-6.0zM2168.0 900.1h6.0v18.0h-6.0zM2174.0 907.2h6.0v25.0h-6.0zM2180.0 909.2h6.0v19.0h-6.0zM2186.0 911.3h6.0v19.0h-6.0zM2192.0 913.3h5.0v12.9h-5.0z" fill="#800000" shape-rendering="crispEdges"/>
<path d="M154.0 908.6h4.0v18.0h-4.0zM158.0 915.1h6.0v9.8h-6.0zM164.0 911.6h6.0v24.0h-6.0zM170.0 918.1h6.0v6.9h-6.0zM176.0 916.9h6.0v12.6h-6.0zM182.0 910.2h6.0v12.6h-6.0zM188.0 914.3h6.0v12.6h-6.0zM194.0 907.6h6.0v12.6h-6.0zM200.0 912.8h6.0v6.2h-6.0zM206.0 912.6h6.0v6.2h-6.0zM212.0 912.5h6.0v12.1h-6.0zM218.0 906.4h6.0v12.1h-6.0zM224.0 912.1h6.0v6.2h-6.0zM230.0 911.9h6.0v12.1h-6.0zM236.0 911.7h6.0v18.1h-6.0zM242.0 905.6h6.0v12.1h-6.0zM248.0 911.4h6.0v18.1h-6.0zM254.0 905.3h6.0v12.1h-6.0zM260.0 905.1h6.0v12.1h-6.0zM266.0 815.0h6.0v102.0h-6.0zM272.0 728.0h6.0v93.0h-6.0zM278.0 728.0h6.0v119.0h-6.0zM284.0 841.0h6.0v21.0h-6.0zM290.0 853.0h6.0v12.0h-6.0zM296.0 847.0h6.0v18.0h-6.0zM302.0 837.0h6.0v21.0h-6.0zM308.0 826.0h6.0v21.0h-6.0zM314.0 812.0h6.0v26.0h-6.0zM320.0 802.0h6.0v26.0h-6.0zM326.0 815.0h6.0v23.0h-6.0zM332.0 832.8h6.0v12.1h-6.0zM338.0 832.7h6.0v12.1h-6.0zM344.0 832.5h6.0v18.1h-6.0zM350.0 814.4h6.0v24.1h-6.0zM356.0 826.3h6.0v12.1h-6.0zM362.0 826.1h6.0v12.1h-6.0zM368.0 831.8h6.0v18.1h-6.0zM374.0 825.8h6.0v18.0h-6.0zM380.0 825.6h6.0v12.1h-6.0zM386.0 831.4h6.0v18.1h-6.0zM392.0 825.3h6.0v18.0h-6.0zM398.0 831.0h6.0v18.1h-6.0zM404.0 831.0h6.0v12.0h-6.0zM410.0 814.5h6.0v22.5h-6.0zM416.0 809.0h6.0v11.5h-6.0zM422.0 809.0h6.0v11.0h-6.0zM428.0 814.0h6.0v21.0h-6.0zM434.0 828.9h6.0v12.1h-6.0zM440.0 816.8h6.0v18.1h-6.0zM446.0 828.6h6.0v6.1h-6.0zM452.0 828.5h6.0v6.1h-6.0zM458.0 828.4h6.0v18.1h-6.0zM464.0 822.3h6.0v12.1h-6.0zM470.0 822.2h6.0v12.1h-6.0zM476.0 822.0h6.0v12.1h-6.0zM482.0 815.9h6.0v18.1h-6.0zM488.0 821.8h6.0v18.0h-6.0zM494.0 821.6h6.0v12.1h-6.0zM500.0 821.5h6.0v24.0h-6.0zM506.0 827.3h6.0v12.1h-6.0zM512.0 821.3h6.0v24.0h-6.0zM518.0 815.1h6.0v18.1h-6.0zM524.0 821.0h6.0v12.1h-6.0zM530.0 820.9h6.0v18.0h-6.0zM536.0 820.7h6.0v18.0h-6.0zM542.0 820.6h6.0v18.0h-6.0zM548.0 826.4h6.0v12.1h-6.0zM554.0 814.4h6.0v18.1h-6.0zM560.0 814.2h6.0v18.1h-6.0zM566.0 820.1h6.0v18.0h-6.0zM572.0 825.9h6.0v12.1h-6.0zM578.0 819.8h6.0v24.0h-6.0zM584.0 813.7h6.0v18.1h-6.0zM590.0 825.5h6.0v12.1h-6.0zM596.0 825.4h6.0v12.1h-6.0zM602.0 813.3h6.0v24.0h-6.0zM608.0 813.2h6.0v18.1h-6.0zM614.0 825.0h6.0v12.1h-6.0zM620.0 816.0h6.0v12.0h-6.0zM626.0 597.0h6.0v225.0h-6.0zM632.0 340.0h6.0v263.0h-6.0zM638.0 496.0h6.0v237.0h-6.0zM644.0 727.0h6.0v43.0h-6.0zM650.0 761.0h6.0v9.0h-6.0zM656.0 734.0h6.0v36.0h-6.0zM662.0 716.0h6.0v36.0h-6.0zM668.0 684.0h6.0v36.0h-6.0zM674.0 640.0h6.0v49.0h-6.0zM680.0 584.0h6.0v73.0h-6.0zM686.0 603.0h6.0v54.0h-6.0zM692.0 646.0h6.0v24.0h-6.0zM698.0 653.0h6.0v25.0h-6.0zM704.0 609.0h6.0v50.0h-6.0zM710.0 591.0h6.0v24.0h-6.0zM716.0 603.0h6.0v22.0h-6.0zM722.0 613.0h6.0v12.1h-6.0zM728.0 607.2h6.0v12.1h-6.0zM734.0 607.3h6.0v12.1h-6.0zM740.0 607.4h6.0v18.0h-6.0zM746.0 607.5h6.0v24.0h-6.0zM752.0 607.6h6.0v12.1h-6.0zM758.0 607.8h6.0v12.1h-6.0zM764.0 601.9h6.0v18.1h-6.0zM770.0 613.9h6.0v12.1h-6.0zM776.0 614.1h6.0v12.1h-6.0zM782.0 614.2h6.0v12.1h-6.0zM788.0 602.4h6.0v30.0h-6.0zM794.0 614.4h6.0v12.1h-6.0zM800.0 602.6h6.0v24.0h-6.0zM806.0 614.6h6.0v12.1h-6.0zM812.0 596.8h6.0v24.1h-6.0zM818.0 608.9h6.0v12.1h-6.0zM824.0 534.0h6.0v89.0h-6.0zM830.0 542.0h6.0v73.0h-6.0zM836.0 588.9h6.0v24.1h-6.0zM842.0 600.7h6.0v12.1h-6.0zM848.0 606.4h6.0v6.2h-6.0zM854.0 600.3h6.0v18.0h-6.0zM860.0 600.1h6.0v18.0h-6.0zM866.0 599.9h6.0v12.1h-6.0zM872.0 605.6h6.0v12.1h-6.0zM878.0 605.4h6.0v24.1h-6.0zM884.0 599.3h6.0v18.0h-6.0zM890.0 599.1h6.0v24.0h-6.0zM896.0 598.9h6.0v18.0h-6.0zM902.0 598.7h6.0v12.1h-6.0zM908.0 592.5h6.0v18.1h-6.0zM914.0 592.3h6.0v30.0h-6.0zM920.0 604.0h6.0v12.1h-6.0zM926.0 603.8h6.0v18.1h-6.0zM932.0 603.6h6.0v12.1h-6.0zM938.0 603.4h6.0v12.1h-6.0zM944.0 603.2h6.0v12.1h-6.0zM950.0 603.0h6.0v12.1h-6.0zM956.0 602.8h6.0v6.2h-6.0zM962.0 602.6h6.0v18.1h-6.0zM968.0 596.5h6.0v18.0h-6.0zM974.0 602.2h6.0v18.1h-6.0zM980.0 590.1h6.0v18.1h-6.0zM986.0 595.9h6.0v18.0h-6.0zM992.0 589.7h6.0v18.1h-6.0zM998.0 589.5h6.0v18.1h-6.0zM1004.0 589.3h6.0v18.1h-6.0zM1010.0 595.1h6.0v12.1h-6.0zM1016.0 580.3h6.0v26.0h-6.0zM1022.0 583.0h6.0v18.0h-6.0zM1028.0 574.6h6.0v14.4h-6.0zM1034.0 573.3h6.0v7.3h-6.0zM1040.0 572.0h6.0v7.3h-6.0zM1046.0 569.0h6.0v19.0h-6.0zM1052.0 203.0h6.0v385.0h-6.0zM1058.0 171.0h6.0v363.0h-6.0zM1064.0 528.0h6.0v36.0h-6.0zM1070.0 541.0h6.0v28.0h-6.0zM1076.0 528.0h6.0v17.0h-6.0zM1082.0 503.0h6.0v36.0h-6.0zM1088.0 490.0h6.0v24.0h-6.0zM1094.0 484.0h6.0v19.0h-6.0zM1100.0 490.0h6.0v29.0h-6.0zM1106.0 502.0h6.0v18.6h-6.0zM1112.0 497.7h6.0v24.0h-6.0zM1118.0 504.3h6.0v18.6h-6.0zM1124.0 505.5h6.0v18.6h-6.0zM1130.0 500.9h6.0v24.0h-6.0zM1136.0 500.6h6.0v12.2h-6.0zM1142.0 506.0h6.0v6.4h-6.0zM1148.0 499.8h6.0v12.2h-6.0zM1154.0 499.4h6.0v12.2h-6.0zM1160.0 493.1h6.0v18.2h-6.0zM1166.0 493.3h6.0v18.2h-6.0zM1172.0 493.6h6.0v18.2h-6.0zM1178.0 493.9h6.0v18.2h-6.0zM1184.0 500.2h6.0v12.2h-6.0zM1190.0 494.5h6.0v18.2h-6.0zM1196.0 500.8h6.0v12.2h-6.0zM1202.0 507.0h6.0v6.3h-6.0zM1208.0 507.3h6.0v12.2h-6.0zM1214.0 507.6h6.0v12.2h-6.0zM1220.0 496.1h6.0v18.2h-6.0zM1226.0 502.4h6.0v12.2h-6.0zM1232.0 496.7h6.0v24.0h-6.0zM1238.0 497.1h6.0v24.0h-6.0zM1244.0 509.5h6.0v6.8h-6.0zM1250.0 504.7h6.0v18.0h-6.0zM1256.0 499.5h6.0v24.0h-6.0zM1262.0 500.3h6.0v18.4h-6.0zM1268.0 507.1h6.0v18.0h-6.0zM1274.0 501.9h6.0v30.0h-6.0zM1280.0 508.7h6.0v24.0h-6.0zM1286.0 509.5h6.0v12.4h-6.0zM1292.0 510.3h6.0v12.4h-6.0zM1298.0 516.7h6.0v18.3h-6.0zM1304.0 517.2h6.0v6.3h-6.0zM1310.0 517.5h6.0v12.2h-6.0zM1316.0 512.0h6.0v12.2h-6.0zM1322.0 506.3h6.0v18.2h-6.0zM1328.0 512.6h6.0v24.0h-6.0zM1334.0 512.9h6.0v18.0h-6.0zM1340.0 507.2h6.0v18.2h-6.0zM1346.0 513.5h6.0v12.2h-6.0zM1352.0 513.8h6.0v18.0h-6.0zM1358.0 514.1h6.0v18.0h-6.0zM1364.0 514.4h6.0v12.2h-6.0zM1370.0 514.7h6.0v18.0h-6.0zM1376.0 520.9h6.0v6.3h-6.0zM1382.0 509.3h6.0v18.2h-6.0zM1388.0 509.6h6.0v24.0h-6.0zM1394.0 515.9h6.0v18.7h-6.0zM1400.0 528.7h6.0v19.4h-6.0zM1406.0 536.2h6.0v18.0h-6.0zM1412.0 536.3h6.0v18.0h-6.0zM1418.0 530.5h6.0v18.1h-6.0zM1424.0 530.7h6.0v18.1h-6.0zM1430.0 536.9h6.0v12.1h-6.0zM1436.0 525.1h6.0v24.1h-6.0zM1442.0 525.3h6.0v24.1h-6.0zM1448.0 531.5h6.0v24.0h-6.0zM1454.0 537.7h6.0v12.1h-6.0zM1460.0 531.8h6.0v18.1h-6.0zM1466.0 538.0h6.0v18.0h-6.0zM1472.0 532.2h6.0v18.1h-6.0zM1478.0 544.3h6.0v12.1h-6.0zM1484.0 538.6h6.0v18.0h-6.0zM1490.0 532.8h6.0v18.1h-6.0zM1496.0 539.0h6.0v12.7h-6.0zM1502.0 540.6h6.0v18.0h-6.0zM1508.0 536.4h6.0v18.9h-6.0zM1514.0 538.3h6.0v18.9h-6.0zM1520.0 551.2h6.0v12.9h-6.0zM1526.0 548.1h6.0v18.0h-6.0zM1532.0 549.9h6.0v24.0h-6.0zM1538.0 556.9h6.0v18.9h-6.0zM1544.0 553.7h6.0v18.0h-6.0zM1550.0 560.6h6.0v18.9h-6.0zM1556.0 562.5h6.0v18.9h-6.0zM1562.0 564.4h6.0v12.9h-6.0zM1568.0 566.2h6.0v18.9h-6.0zM1574.0 568.1h6.0v18.9h-6.0zM1580.0 570.0h6.0v12.6h-6.0zM1586.0 565.7h6.0v24.0h-6.0zM1592.0 572.2h6.0v18.6h-6.0zM1598.0 573.3h6.0v12.6h-6.0zM1604.0 569.0h6.0v18.0h-6.0zM1610.0 575.6h6.0v18.6h-6.0zM1616.0 576.7h6.0v12.6h-6.0zM1622.0 577.8h6.0v12.6h-6.0zM1628.0 578.9h6.0v24.6h-6.0zM1634.0 580.0h6.0v12.6h-6.0zM1640.0 581.1h6.0v12.6h-6.0zM1646.0 564.8h6.0v24.5h-6.0zM1652.0 571.8h6.0v18.5h-6.0zM1658.0 578.8h6.0v12.5h-6.0zM1664.0 573.8h6.0v18.5h-6.0zM1670.0 586.3h6.0v12.5h-6.0zM1676.0 575.8h6.0v24.0h-6.0zM1682.0 582.8h6.0v18.0h-6.0zM1688.0 577.8h6.0v18.5h-6.0zM1694.0 584.8h6.0v12.5h-6.0zM1700.0 585.8h6.0v12.5h-6.0zM1706.0 586.8h6.0v18.0h-6.0zM1712.0 589.5h6.0v13.5h-6.0zM1718.0 597.0h6.0v19.5h-6.0zM1724.0 600.0h6.0v13.5h-6.0zM1730.0 603.0h6.0v25.5h-6.0zM1736.0 606.0h6.0v19.5h-6.0zM1742.0 609.0h6.0v19.5h-6.0zM1748.0 612.0h6.0v19.5h-6.0zM1754.0 615.0h6.0v9.0h-6.0zM1760.0 617.0h6.0v7.0h-6.0zM1766.0 610.5h6.0v12.5h-6.0zM1772.0 609.5h6.0v12.5h-6.0zM1778.0 602.5h6.0v18.5h-6.0zM1784.0 601.5h6.0v18.5h-6.0zM1790.0 590.0h6.0v29.0h-6.0zM1796.0 547.0h6.0v49.0h-6.0zM1802.0 511.0h6.0v42.0h-6.0zM1808.0 497.0h6.0v20.0h-6.0zM1814.0 497.0h6.0v52.0h-6.0zM1820.0 543.0h6.0v11.4h-6.0zM1826.0 548.4h6.0v9.6h-6.0zM1832.0 549.3h6.0v8.0h-6.0zM1838.0 547.3h6.0v8.0h-6.0zM1844.0 541.5h6.0v11.8h-6.0zM1850.0 536.0h6.0v11.5h-6.0zM1856.0 538.5h6.0v21.0h-6.0zM1862.0 553.5h6.0v14.1h-6.0zM1868.0 556.2h6.0v18.0h-6.0zM1874.0 562.8h6.0v12.6h-6.0zM1880.0 558.6h6.0v24.0h-6.0zM1886.0 566.1h6.0v15.2h-6.0zM1892.0 572.5h6.0v21.2h-6.0zM1898.0 578.9h6.0v20.8h-6.0zM1904.0 583.8h6.0v14.1h-6.0zM1910.0 584.1h6.0v24.0h-6.0zM1916.0 592.2h6.0v14.1h-6.0zM1922.0 591.6h6.0v18.0h-6.0zM1928.0 599.2h6.0v25.6h-6.0zM1934.0 591.8h6.0v19.6h-6.0zM1940.0 595.0h6.0v24.0h-6.0zM1946.0 608.6h6.0v13.7h-6.0zM1952.0 607.6h6.0v13.7h-6.0zM1958.0 611.0h6.0v13.7h-6.0zM1964.0 618.6h6.0v13.7h-6.0zM1970.0 617.1h6.0v13.1h-6.0zM1976.0 624.2h6.0v19.1h-6.0zM1982.0 626.4h6.0v19.1h-6.0zM1988.0 628.6h6.0v25.1h-6.0zM1994.0 630.8h6.0v19.1h-6.0zM2000.0 628.4h6.0v18.0h-6.0zM2006.0 635.8h6.0v13.4h-6.0zM2012.0 638.6h6.0v19.4h-6.0zM2018.0 641.4h6.0v13.4h-6.0zM2024.0 644.2h6.0v19.4h-6.0zM2030.0 647.0h6.0v12.0h-6.0zM2036.0 647.0h6.0v24.0h-6.0zM2042.0 647.0h6.0v18.0h-6.0zM2048.0 647.0h6.0v18.6h-6.0zM2054.0 649.4h6.0v19.8h-6.0zM2060.0 653.0h6.0v19.8h-6.0zM2066.0 652.4h6.0v24.0h-6.0zM2072.0 656.0h6.0v18.0h-6.0zM2078.0 659.4h6.0v13.1h-6.0zM2084.0 666.5h6.0v19.1h-6.0zM2090.0 663.8h6.0v30.0h-6.0zM2096.0 670.9h6.0v19.1h-6.0zM2102.0 673.1h6.0v8.2h-6.0zM2108.0 664.5h6.0v30.0h-6.0zM2114.0 677.9h6.0v13.4h-6.0zM2120.0 680.7h6.0v13.4h-6.0zM2126.0 672.9h6.0v19.4h-6.0zM2132.0 681.7h6.0v18.0h-6.0zM2138.0 684.4h6.0v13.1h-6.0zM2144.0 686.6h6.0v18.0h-6.0zM2150.0 682.8h6.0v30.0h-6.0zM2156.0 685.0h6.0v19.1h-6.0zM2162.0 693.2h6.0v18.0h-6.0zM2168.0 700.3h6.0v12.9h-6.0zM2174.0 701.6h6.0v12.4h-6.0zM2180.0 696.9h6.0v18.0h-6.0zM2186.0 703.4h6.0v6.9h-6.0zM2192.0 704.3h5.0v18.4h-5.0z" fill="#0000ff" shape-rendering="crispEdges"/>
<rect x="154" y="40" width="2043" height="1443" fill="none" stroke="#000" stroke-width="6"/>
<line x1="154" y1="1483" x2="154" y2="1517" stroke="#000" stroke-width="6"/>
<line x1="492" y1="1483" x2="492" y2="1517" stroke="#000" stroke-width="6"/>
<line x1="835" y1="1483" x2="835" y2="1517" stroke="#000" stroke-width="6"/>
<line x1="1172" y1="1483" x2="1172" y2="1517" stroke="#000" stroke-width="6"/>
<line x1="1515" y1="1483" x2="1515" y2="1517" stroke="#000" stroke-width="6"/>
<line x1="1853" y1="1483" x2="1853" y2="1517" stroke="#000" stroke-width="6"/>
<line x1="2197" y1="1483" x2="2197" y2="1517" stroke="#000" stroke-width="6"/>
<line x1="323" y1="1483" x2="323" y2="1505" stroke="#000" stroke-width="6"/>
<line x1="660" y1="1483" x2="660" y2="1505" stroke="#000" stroke-width="6"/>
<line x1="1004" y1="1483" x2="1004" y2="1505" stroke="#000" stroke-width="6"/>
<line x1="1341" y1="1483" x2="1341" y2="1505" stroke="#000" stroke-width="6"/>
<line x1="1684" y1="1483" x2="1684" y2="1505" stroke="#000" stroke-width="6"/>
<line x1="2028" y1="1483" x2="2028" y2="1505" stroke="#000" stroke-width="6"/>
<text x="147" y="1573" font-family="'Liberation Sans', Arial, sans-serif" font-size="53" letter-spacing="4.5" text-anchor="middle" fill="#555">0</text>
<text x="489" y="1573" font-family="'Liberation Sans', Arial, sans-serif" font-size="53" letter-spacing="4.5" text-anchor="middle" fill="#555">200</text>
<text x="832" y="1573" font-family="'Liberation Sans', Arial, sans-serif" font-size="53" letter-spacing="4.5" text-anchor="middle" fill="#555">400</text>
<text x="1169" y="1573" font-family="'Liberation Sans', Arial, sans-serif" font-size="53" letter-spacing="4.5" text-anchor="middle" fill="#555">600</text>
<text x="1512" y="1573" font-family="'Liberation Sans', Arial, sans-serif" font-size="53" letter-spacing="4.5" text-anchor="middle" fill="#555">800</text>
<text x="1850" y="1573" font-family="'Liberation Sans', Arial, sans-serif" font-size="53" letter-spacing="4.5" text-anchor="middle" fill="#555">1000</text>
<text x="2192" y="1573" font-family="'Liberation Sans', Arial, sans-serif" font-size="53" letter-spacing="4.5" text-anchor="middle" fill="#555">1200</text>
<text x="1172" y="1698" font-family="'Liberation Sans', Arial, sans-serif" font-size="70" letter-spacing="6.4" text-anchor="middle" fill="#1e1e1e" stroke="#1e1e1e" stroke-width="1.2">Binding energy / eV</text>
<text transform="translate(70,814) rotate(-90)" font-family="'Liberation Sans', Arial, sans-serif" font-weight="bold" font-size="76" text-anchor="middle" fill="#111">Count</text>
<text x="1015" y="106" font-family="'Liberation Sans', Arial, sans-serif" font-size="70" fill="#2a2a2a">O</text><text x="1082" y="137" font-family="'Liberation Sans', Arial, sans-serif" font-size="44" fill="#4a4a4a" letter-spacing="2"><tspan>1</tspan><tspan font-size="60" dx="3">s</tspan></text>
<text x="603" y="243" font-family="'Liberation Sans', Arial, sans-serif" font-size="70" fill="#2a2a2a">C</text><text x="663" y="275" font-family="'Liberation Sans', Arial, sans-serif" font-size="44" fill="#4a4a4a" letter-spacing="2"><tspan>1</tspan><tspan font-size="60" dx="3">s</tspan></text>
<text x="796" y="462" font-family="'Liberation Sans', Arial, sans-serif" font-size="70" fill="#2a2a2a">N</text><text x="857" y="493" font-family="'Liberation Sans', Arial, sans-serif" font-size="44" fill="#4a4a4a" letter-spacing="2"><tspan>1</tspan><tspan font-size="60" dx="3">s</tspan></text>
<text x="219" y="661" font-family="'Liberation Sans', Arial, sans-serif" font-size="70" fill="#2a2a2a" letter-spacing="14">Pt</text><text x="303" y="693" font-family="'Liberation Sans', Arial, sans-serif" font-size="42" fill="#4a4a4a" letter-spacing="2">4f</text>
<text x="396" y="737" font-family="'Liberation Sans', Arial, sans-serif" font-size="70" fill="#2a2a2a">S</text><text x="444" y="767" font-family="'Liberation Sans', Arial, sans-serif" font-size="42" fill="#4a4a4a" letter-spacing="2">2P</text>
</g>
<g id="plotB">
<rect x="174" y="1756" width="127" height="139" fill="none" stroke="#e2e2e2" stroke-width="2"/>
<text x="175" y="1847" font-family="'Liberation Serif', 'Times New Roman', serif" font-size="84" fill="#111">(<tspan font-weight="bold">b</tspan><tspan dx="3">)</tspan></text>
<text x="201" y="2459" font-family="'Liberation Serif', 'Times New Roman', serif" font-weight="bold" font-size="72" fill="#111" letter-spacing="3">(V)</text>
<text x="190" y="2599" font-family="'Liberation Serif', 'Times New Roman', serif" font-weight="bold" font-size="72" fill="#111" letter-spacing="3">(IV<tspan dx="6">)</tspan></text>
<text x="177" y="2715" font-family="'Liberation Serif', 'Times New Roman', serif" font-weight="bold" font-size="72" fill="#111" letter-spacing="3">(III)</text>
<text x="190" y="2863" font-family="'Liberation Serif', 'Times New Roman', serif" font-weight="bold" font-size="72" fill="#111" letter-spacing="3">(II)</text>
<text x="206" y="3035" font-family="'Liberation Serif', 'Times New Roman', serif" font-weight="bold" font-size="72" fill="#111" letter-spacing="3">(I)</text>
<line x1="952" y1="1743" x2="952" y2="3180" stroke="#000" stroke-width="4" stroke-dasharray="19 17.3"/>
<line x1="1436" y1="1743" x2="1436" y2="3180" stroke="#000" stroke-width="4" stroke-dasharray="19 17.3"/>
<polyline points="158.0,2499.0 246.0,2497.0 362.0,2493.0 422.0,2489.0 500.0,2485.0 550.0,2479.0 577.0,2475.0 592.0,2469.0 606.0,2465.0 622.0,2456.0 633.0,2449.0 642.0,2437.0 651.0,2429.0 659.0,2420.0 665.0,2411.5 669.0,2400.0 673.6,2387.7 685.0,2367.5 695.0,2347.0 705.0,2324.0 714.0,2295.6 722.5,2267.0 731.0,2235.0 739.8,2203.6 748.4,2166.0 755.6,2132.0 762.8,2094.0 770.0,2060.0 777.0,2028.0 785.8,1985.0 794.4,1956.0 803.0,1923.0 815.0,1898.0 830.0,1875.0 842.0,1875.0 846.0,1880.0 857.6,1887.0 866.0,1903.0 875.0,1919.0 883.5,1936.0 892.0,1959.0 900.8,1982.0 909.0,2008.0 916.6,2031.0 923.8,2054.0 932.4,2080.0 941.0,2100.0 949.6,2120.0 958.0,2134.6 967.0,2154.8 975.5,2169.0 984.0,2183.5 990.0,2190.7 998.6,2206.5 1005.8,2223.8 1014.4,2235.3 1024.5,2246.8 1036.0,2264.0 1050.4,2275.5 1064.8,2284.0 1076.0,2292.8 1090.6,2300.0 1095.0,2302.8 1141.0,2302.8 1156.8,2298.5 1162.5,2290.0 1174.0,2280.0 1185.5,2267.0 1191.0,2252.5 1197.0,2238.0 1204.0,2223.8 1211.4,2209.4 1217.0,2192.0 1224.0,2172.0 1231.5,2149.0 1237.0,2129.0 1244.5,2106.0 1250.0,2085.8 1257.4,2062.8 1264.6,2039.8 1271.8,2016.8 1280.4,1996.6 1289.0,1973.6 1296.2,1953.5 1302.0,1939.0 1303.4,1937.7 1338.0,1937.7 1343.6,1945.0 1352.0,1959.0 1362.3,1973.6 1372.4,1988.0 1384.0,2006.7 1395.4,2025.4 1404.0,2045.5 1412.7,2068.5 1419.8,2085.8 1427.0,2100.0 1444.0,2132.0 1458.6,2157.0 1473.0,2182.0 1487.0,2203.6 1501.4,2225.0 1515.7,2246.4 1537.0,2264.0 1555.0,2278.6 1573.0,2291.0 1594.0,2298.0 1615.7,2309.0 1630.0,2318.0 1655.0,2323.0 1680.0,2334.0 1694.0,2343.0 1715.7,2346.4 1744.0,2351.8 1765.7,2357.0 1776.4,2362.5 1850.0,2363.0 1862.0,2371.0 2010.0,2371.0 2026.0,2376.0 2070.0,2379.0 2086.0,2387.0 2214.0,2387.0" fill="none" stroke="#000" stroke-width="7" stroke-linejoin="round"/>
<polyline points="158.0,2631.0 246.0,2629.0 334.0,2625.0 450.0,2621.0 550.0,2618.5 577.0,2614.0 592.0,2610.0 606.0,2605.6 622.0,2598.0 636.0,2591.0 649.0,2581.0 659.0,2572.5 665.0,2561.0 670.7,2549.5 678.0,2538.0 685.0,2526.5 692.0,2513.6 699.5,2497.8 706.7,2480.5 714.0,2466.0 719.6,2451.8 725.4,2431.6 731.0,2411.5 734.0,2402.0 742.6,2367.5 751.0,2333.0 758.5,2298.5 765.6,2264.0 774.0,2229.5 781.0,2206.5 790.0,2180.6 797.0,2157.6 806.0,2134.6 814.5,2114.5 823.0,2094.0 830.0,2074.0 834.6,2063.0 864.8,2063.0 869.0,2068.5 880.7,2083.0 892.0,2097.0 900.8,2114.5 909.0,2137.5 918.0,2160.5 926.7,2183.5 935.0,2200.8 946.8,2221.0 955.4,2241.0 964.0,2258.0 972.6,2275.5 981.0,2292.8 990.0,2302.8 1001.5,2321.5 1010.0,2338.8 1018.8,2356.0 1027.4,2370.4 1039.0,2387.7 1053.0,2399.0 1070.5,2409.0 1085.0,2415.0 1099.0,2422.0 1113.6,2427.0 1136.6,2427.0 1142.0,2422.0 1156.8,2422.0 1162.5,2415.0 1174.0,2405.0 1188.4,2393.4 1197.0,2380.5 1205.6,2364.6 1212.8,2350.0 1220.0,2336.0 1225.8,2318.7 1231.5,2301.4 1237.3,2281.3 1243.0,2264.0 1248.8,2244.0 1256.0,2223.8 1263.0,2203.6 1270.3,2183.5 1277.5,2166.0 1283.3,2154.8 1290.5,2140.4 1299.0,2123.0 1309.0,2114.5 1320.6,2103.0 1330.7,2094.4 1345.0,2094.4 1353.7,2098.7 1363.8,2103.0 1374.0,2114.5 1382.5,2127.5 1392.5,2137.5 1398.3,2152.0 1404.0,2166.0 1411.2,2183.5 1418.4,2200.8 1427.0,2213.7 1444.0,2239.0 1458.6,2264.0 1473.0,2293.0 1487.0,2318.0 1501.4,2339.0 1515.7,2357.0 1537.0,2382.0 1555.0,2398.0 1573.0,2410.7 1590.7,2421.4 1605.0,2430.0 1630.0,2442.8 1651.4,2450.0 1680.0,2459.0 1708.6,2466.0 1737.0,2475.0 1765.7,2482.0 1800.0,2487.0 1834.0,2488.0 1850.0,2492.0 1862.0,2497.0 1894.0,2501.0 1922.0,2507.0 2010.0,2507.0 2038.0,2513.0 2070.0,2518.6 2126.0,2518.6 2130.0,2515.0 2186.0,2515.0 2190.0,2518.6 2214.0,2518.6" fill="none" stroke="#000" stroke-width="7" stroke-linejoin="round"/>
<polyline points="158.0,2740.0 214.0,2737.0 305.0,2733.0 362.0,2730.0 450.0,2727.0 550.0,2722.0 577.0,2717.7 592.0,2713.4 610.0,2707.6 625.0,2703.0 636.0,2700.5 642.0,2690.4 649.0,2681.8 656.0,2674.6 663.6,2664.5 670.8,2653.0 678.0,2641.5 685.0,2627.0 692.0,2612.8 699.5,2598.4 706.7,2584.0 714.0,2566.8 719.6,2543.8 724.0,2523.6 728.0,2503.5 734.0,2477.6 739.8,2457.5 747.0,2434.0 760.0,2401.0 768.5,2364.6 775.7,2333.0 783.0,2307.0 790.0,2281.0 797.0,2258.0 804.5,2238.0 813.0,2218.0 821.7,2198.0 830.0,2177.8 834.6,2166.0 860.5,2166.0 866.0,2172.0 877.8,2186.4 890.7,2200.8 898.0,2215.0 906.5,2238.0 915.0,2261.0 923.8,2284.0 932.4,2301.0 941.0,2318.7 949.6,2338.8 958.0,2353.0 967.0,2373.0 975.5,2390.5 984.0,2402.0 990.0,2411.0 1001.5,2430.0 1010.0,2451.0 1018.8,2463.0 1027.4,2474.8 1036.0,2489.0 1053.0,2502.0 1070.5,2515.0 1087.8,2523.6 1099.0,2530.8 1113.6,2535.0 1141.0,2535.0 1142.4,2530.8 1156.8,2530.8 1168.3,2519.3 1179.8,2507.8 1191.3,2492.0 1202.8,2474.8 1214.3,2457.5 1220.0,2440.3 1225.8,2423.0 1233.0,2405.0 1240.0,2384.8 1247.3,2364.6 1254.5,2344.5 1261.7,2324.4 1269.0,2304.3 1276.0,2287.0 1283.3,2272.7 1290.5,2252.5 1299.0,2229.5 1309.0,2221.0 1319.0,2212.3 1330.7,2202.2 1345.0,2202.2 1355.0,2208.0 1363.8,2212.3 1374.0,2223.8 1382.5,2235.3 1392.5,2245.4 1399.7,2258.3 1407.0,2274.0 1414.0,2290.0 1421.0,2307.0 1428.5,2321.5 1444.0,2350.0 1458.6,2375.0 1473.0,2400.0 1487.0,2421.4 1501.4,2443.0 1512.0,2460.7 1526.4,2475.0 1540.7,2489.0 1558.6,2507.0 1573.0,2518.0 1587.0,2528.6 1601.4,2537.5 1626.4,2550.0 1658.6,2557.0 1687.0,2564.3 1715.7,2571.4 1737.0,2578.6 1751.4,2585.7 1765.7,2591.0 1806.0,2592.0 1834.0,2597.0 1850.0,2600.0 1894.0,2603.0 1910.0,2609.0 1922.0,2613.0 2038.0,2615.0 2054.0,2621.0 2186.0,2623.0 2190.0,2627.0 2214.0,2627.0" fill="none" stroke="#000" stroke-width="7" stroke-linejoin="round"/>
<polyline points="158.0,2811.0 186.0,2809.0 246.0,2805.0 394.0,2801.0 480.0,2798.0 550.0,2795.0 584.0,2791.0 599.0,2789.0 613.0,2786.7 622.0,2783.0 633.0,2776.7 645.0,2771.0 653.5,2765.0 662.0,2756.5 670.8,2748.0 679.0,2742.0 688.0,2735.0 695.0,2726.0 702.0,2716.0 709.6,2704.8 716.8,2693.0 724.0,2676.0 731.0,2658.8 738.0,2641.5 745.5,2624.0 752.7,2607.0 760.0,2589.8 768.5,2569.6 775.7,2552.0 783.0,2538.0 790.0,2520.8 797.0,2506.4 803.0,2495.0 814.5,2482.0 823.0,2473.0 834.6,2460.0 837.5,2459.0 867.7,2459.0 875.0,2464.7 883.5,2470.4 895.0,2480.5 906.5,2492.0 918.0,2505.0 929.5,2520.8 941.0,2535.0 951.0,2549.5 958.0,2566.8 969.8,2578.0 981.0,2589.8 990.0,2601.3 998.6,2612.8 1010.0,2627.0 1021.6,2638.6 1036.0,2650.0 1053.0,2658.8 1070.5,2666.0 1087.8,2673.0 1099.0,2678.9 1156.8,2678.9 1162.5,2674.6 1177.0,2667.4 1191.3,2653.0 1208.5,2637.2 1225.8,2620.0 1234.4,2607.0 1243.0,2592.6 1251.6,2578.3 1258.8,2564.0 1266.0,2549.5 1273.2,2535.0 1286.0,2518.0 1300.5,2502.0 1312.0,2495.0 1323.5,2487.7 1330.7,2483.4 1348.0,2483.4 1361.0,2486.3 1372.4,2493.4 1382.5,2502.0 1392.5,2512.0 1404.0,2523.6 1412.7,2538.0 1421.3,2552.4 1430.0,2561.0 1448.0,2582.0 1465.7,2600.0 1483.6,2614.3 1501.4,2628.6 1519.0,2639.0 1537.0,2657.0 1555.0,2664.3 1573.0,2673.0 1590.7,2680.4 1608.6,2687.5 1630.0,2696.4 1658.6,2705.4 1687.0,2710.7 1715.7,2714.3 1744.0,2718.0 1762.0,2723.0 1834.0,2723.0 1840.0,2727.0 1862.0,2727.0 1866.0,2731.0 1922.0,2731.0 1926.0,2735.0 2070.0,2735.0 2074.0,2739.0 2214.0,2739.0" fill="none" stroke="#000" stroke-width="7" stroke-linejoin="round"/>
<polyline points="158.0,3075.5 302.0,3073.0 330.0,3068.0 362.0,3064.0 418.0,3060.0 505.0,3057.0 537.0,3055.0 582.0,3051.0 593.0,3046.6 605.0,3042.0 618.0,3039.0 625.0,3034.0 642.0,3030.0 654.0,3026.5 665.0,3023.0 674.0,3018.0 682.0,3013.6 690.0,3009.0 698.0,3005.8 708.0,2999.0 717.0,2992.0 728.0,2983.0 737.0,2973.0 745.6,2962.0 754.0,2950.6 762.8,2940.5 771.4,2926.0 777.0,2914.7 784.3,2897.4 791.5,2880.0 797.0,2865.8 803.0,2850.0 808.8,2834.0 814.5,2817.0 821.7,2799.7 829.0,2782.4 836.0,2765.0 843.0,2749.3 850.5,2733.5 857.6,2716.0 864.8,2699.0 872.0,2681.8 880.7,2667.4 889.0,2656.0 898.0,2647.0 906.5,2638.6 918.0,2630.0 932.4,2624.0 942.5,2621.4 951.0,2617.0 958.0,2621.4 969.8,2630.0 981.0,2641.5 992.8,2653.0 1001.5,2664.5 1010.0,2676.0 1018.8,2687.5 1027.4,2699.0 1036.0,2710.5 1044.6,2722.0 1053.3,2735.0 1061.9,2749.3 1070.5,2762.3 1082.0,2773.8 1092.0,2788.0 1105.0,2802.5 1119.4,2817.0 1133.8,2825.5 1145.0,2831.3 1154.0,2838.5 1169.7,2842.8 1230.0,2842.8 1241.6,2838.5 1251.6,2828.4 1266.0,2817.0 1280.4,2799.7 1292.0,2782.4 1303.4,2762.3 1315.0,2745.0 1326.4,2725.0 1338.0,2704.8 1349.4,2687.5 1361.0,2670.3 1372.4,2653.0 1384.0,2638.6 1392.5,2627.0 1404.0,2621.4 1415.5,2615.6 1421.0,2611.3 1448.0,2612.5 1465.7,2621.4 1483.6,2635.7 1501.4,2653.6 1519.0,2671.4 1537.0,2693.0 1555.0,2714.3 1573.0,2732.0 1590.7,2750.0 1608.6,2764.3 1630.0,2775.0 1658.6,2789.3 1687.0,2800.0 1715.7,2814.3 1740.7,2821.4 1769.0,2834.0 1862.0,2835.0 1866.0,2839.0 1918.0,2839.0 1922.0,2843.0 1978.0,2843.0 1982.0,2839.0 2038.0,2839.0 2042.0,2835.0 2066.0,2835.0 2070.0,2831.0 2182.0,2831.0 2186.0,2835.0 2214.0,2835.0" fill="none" stroke="#000" stroke-width="7" stroke-linejoin="round"/>
<rect x="157.8" y="1743" width="2056.2" height="1440.3" fill="none" stroke="#000" stroke-width="8"/>
<line x1="157.8" y1="3183" x2="157.8" y2="3215" stroke="#000" stroke-width="8"/>
<text x="156.8" y="3276" font-family="'Liberation Sans', Arial, sans-serif" font-size="57" letter-spacing="4" text-anchor="middle" fill="#333">66</text>
<line x1="304.7" y1="3183" x2="304.7" y2="3199" stroke="#000" stroke-width="8"/>
<line x1="451.5" y1="3183" x2="451.5" y2="3215" stroke="#000" stroke-width="8"/>
<text x="450.5" y="3276" font-family="'Liberation Sans', Arial, sans-serif" font-size="57" letter-spacing="4" text-anchor="middle" fill="#333">68</text>
<line x1="598.4" y1="3183" x2="598.4" y2="3199" stroke="#000" stroke-width="8"/>
<line x1="745.3" y1="3183" x2="745.3" y2="3215" stroke="#000" stroke-width="8"/>
<text x="744.3" y="3276" font-family="'Liberation Sans', Arial, sans-serif" font-size="57" letter-spacing="4" text-anchor="middle" fill="#333">70</text>
<line x1="892.2" y1="3183" x2="892.2" y2="3199" stroke="#000" stroke-width="8"/>
<line x1="1039.0" y1="3183" x2="1039.0" y2="3215" stroke="#000" stroke-width="8"/>
<text x="1038.0" y="3276" font-family="'Liberation Sans', Arial, sans-serif" font-size="57" letter-spacing="4" text-anchor="middle" fill="#333">72</text>
<line x1="1185.9" y1="3183" x2="1185.9" y2="3199" stroke="#000" stroke-width="8"/>
<line x1="1332.8" y1="3183" x2="1332.8" y2="3215" stroke="#000" stroke-width="8"/>
<text x="1331.8" y="3276" font-family="'Liberation Sans', Arial, sans-serif" font-size="57" letter-spacing="4" text-anchor="middle" fill="#333">74</text>
<line x1="1479.6" y1="3183" x2="1479.6" y2="3199" stroke="#000" stroke-width="8"/>
<line x1="1626.5" y1="3183" x2="1626.5" y2="3215" stroke="#000" stroke-width="8"/>
<text x="1625.5" y="3276" font-family="'Liberation Sans', Arial, sans-serif" font-size="57" letter-spacing="4" text-anchor="middle" fill="#333">76</text>
<line x1="1773.4" y1="3183" x2="1773.4" y2="3199" stroke="#000" stroke-width="8"/>
<line x1="1920.3" y1="3183" x2="1920.3" y2="3215" stroke="#000" stroke-width="8"/>
<text x="1919.3" y="3276" font-family="'Liberation Sans', Arial, sans-serif" font-size="57" letter-spacing="4" text-anchor="middle" fill="#333">78</text>
<line x1="2067.1" y1="3183" x2="2067.1" y2="3199" stroke="#000" stroke-width="8"/>
<line x1="2214.0" y1="3183" x2="2214.0" y2="3215" stroke="#000" stroke-width="8"/>
<text x="2213.0" y="3276" font-family="'Liberation Sans', Arial, sans-serif" font-size="57" letter-spacing="4" text-anchor="middle" fill="#333">80</text>
<text x="1185" y="3395" font-family="'Liberation Serif', 'Times New Roman', serif" font-weight="bold" font-size="71" letter-spacing="4.3" text-anchor="middle" fill="#111">Binding energy / eV</text>
<text transform="translate(78,2511) rotate(-90)" font-family="'Liberation Serif', 'Times New Roman', serif" font-weight="bold" font-size="80" text-anchor="middle" fill="#111">Count</text>
</g>
</svg>
</body></html>
